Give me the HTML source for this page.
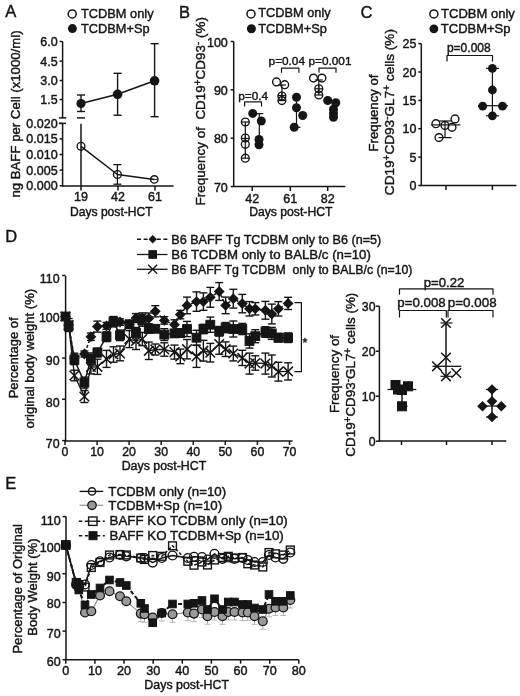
<!DOCTYPE html>
<html><head><meta charset="utf-8"><style>
html,body{margin:0;padding:0;background:#fff;}
svg{display:block;}
text{font-family:"Liberation Sans",sans-serif;fill:#151515;stroke:#151515;stroke-width:0.42px;}
svg{will-change:transform;}
</style></head><body>
<svg width="520" height="696" viewBox="0 0 520 696">
<rect width="520" height="696" fill="#fff"/>
<text x="5.3" y="17.2" font-size="16.5" text-anchor="start">A</text>
<circle cx="72.2" cy="13.9" r="4.0" fill="none" stroke="#151515" stroke-width="1.5"/>
<text x="81.0" y="17.8" font-size="12.8" text-anchor="start">TCDBM only</text>
<circle cx="72.4" cy="28.6" r="4.5" fill="#151515" stroke="#151515" stroke-width="0"/>
<text x="81.0" y="32.7" font-size="12.8" text-anchor="start">TCDBM+Sp</text>
<line x1="62.6" y1="41.5" x2="62.6" y2="117.9" stroke="#151515" stroke-width="1.5"/>
<line x1="59.6" y1="41.5" x2="62.6" y2="41.5" stroke="#151515" stroke-width="1.5"/>
<text x="57.6" y="46.0" font-size="12.5" text-anchor="end">6.0</text>
<line x1="59.6" y1="61.1" x2="62.6" y2="61.1" stroke="#151515" stroke-width="1.5"/>
<text x="57.6" y="65.6" font-size="12.5" text-anchor="end">4.5</text>
<line x1="59.6" y1="80.5" x2="62.6" y2="80.5" stroke="#151515" stroke-width="1.5"/>
<text x="57.6" y="85.0" font-size="12.5" text-anchor="end">3.0</text>
<line x1="59.6" y1="99.5" x2="62.6" y2="99.5" stroke="#151515" stroke-width="1.5"/>
<text x="57.6" y="104.0" font-size="12.5" text-anchor="end">1.5</text>
<line x1="59.0" y1="117.9" x2="66.2" y2="117.9" stroke="#151515" stroke-width="1.5"/>
<line x1="62.6" y1="123.4" x2="62.6" y2="186.0" stroke="#151515" stroke-width="1.5"/>
<line x1="59.6" y1="123.4" x2="62.6" y2="123.4" stroke="#151515" stroke-width="1.5"/>
<text x="57.6" y="127.9" font-size="12.5" text-anchor="end">0.020</text>
<line x1="59.6" y1="138.9" x2="62.6" y2="138.9" stroke="#151515" stroke-width="1.5"/>
<text x="57.6" y="143.4" font-size="12.5" text-anchor="end">0.015</text>
<line x1="59.6" y1="154.5" x2="62.6" y2="154.5" stroke="#151515" stroke-width="1.5"/>
<text x="57.6" y="159.0" font-size="12.5" text-anchor="end">0.010</text>
<line x1="59.6" y1="170.1" x2="62.6" y2="170.1" stroke="#151515" stroke-width="1.5"/>
<text x="57.6" y="174.6" font-size="12.5" text-anchor="end">0.005</text>
<line x1="59.6" y1="185.8" x2="62.6" y2="185.8" stroke="#151515" stroke-width="1.5"/>
<text x="57.6" y="190.3" font-size="12.5" text-anchor="end">0.000</text>
<line x1="58.8" y1="123.4" x2="66.0" y2="123.4" stroke="#151515" stroke-width="1.5"/>
<line x1="62.0" y1="185.9" x2="173.6" y2="185.9" stroke="#151515" stroke-width="1.5"/>
<line x1="81.0" y1="185.9" x2="81.0" y2="190.4" stroke="#151515" stroke-width="1.5"/>
<text x="81.0" y="200.8" font-size="12.5" text-anchor="middle">19</text>
<line x1="118.0" y1="185.9" x2="118.0" y2="190.4" stroke="#151515" stroke-width="1.5"/>
<text x="118.0" y="200.8" font-size="12.5" text-anchor="middle">42</text>
<line x1="155.0" y1="185.9" x2="155.0" y2="190.4" stroke="#151515" stroke-width="1.5"/>
<text x="155.0" y="200.8" font-size="12.5" text-anchor="middle">61</text>
<text x="111.3" y="215.8" font-size="12.1" text-anchor="middle">Days post-HCT</text>
<text x="20.3" y="114.0" font-size="13.2" text-anchor="middle" transform="rotate(-90 20.3 114.0)">ng BAFF per Cell (x1000/ml)</text>
<line x1="81.0" y1="95.0" x2="81.0" y2="111.5" stroke="#151515" stroke-width="1.4"/>
<line x1="77.0" y1="95.0" x2="85.0" y2="95.0" stroke="#151515" stroke-width="1.4"/>
<line x1="77.0" y1="111.5" x2="85.0" y2="111.5" stroke="#151515" stroke-width="1.4"/>
<line x1="77.0" y1="117.9" x2="85.0" y2="117.9" stroke="#151515" stroke-width="1.5"/>
<line x1="117.6" y1="73.3" x2="117.6" y2="115.2" stroke="#151515" stroke-width="1.4"/>
<line x1="113.6" y1="73.3" x2="121.6" y2="73.3" stroke="#151515" stroke-width="1.4"/>
<line x1="113.6" y1="115.2" x2="121.6" y2="115.2" stroke="#151515" stroke-width="1.4"/>
<line x1="154.6" y1="43.7" x2="154.6" y2="116.7" stroke="#151515" stroke-width="1.4"/>
<line x1="150.6" y1="43.7" x2="158.6" y2="43.7" stroke="#151515" stroke-width="1.4"/>
<line x1="150.6" y1="116.7" x2="158.6" y2="116.7" stroke="#151515" stroke-width="1.4"/>
<polyline points="81.0,103.5 117.6,94.3 154.6,80.8" fill="none" stroke="#151515" stroke-width="1.5" stroke-linejoin="round"/>
<circle cx="81.0" cy="103.5" r="4.6" fill="#151515" stroke="#151515" stroke-width="0"/>
<circle cx="117.6" cy="94.3" r="4.8" fill="#151515" stroke="#151515" stroke-width="0"/>
<circle cx="154.6" cy="80.8" r="4.8" fill="#151515" stroke="#151515" stroke-width="0"/>
<line x1="81.0" y1="123.8" x2="81.0" y2="186.0" stroke="#151515" stroke-width="1.5"/>
<line x1="117.4" y1="164.6" x2="117.4" y2="184.2" stroke="#151515" stroke-width="1.3"/>
<line x1="113.4" y1="164.6" x2="121.4" y2="164.6" stroke="#151515" stroke-width="1.3"/>
<line x1="113.4" y1="184.2" x2="121.4" y2="184.2" stroke="#151515" stroke-width="1.3"/>
<polyline points="81.0,146.3 117.4,174.5 154.3,179.4" fill="none" stroke="#151515" stroke-width="1.5" stroke-linejoin="round"/>
<circle cx="81.0" cy="146.3" r="3.9" fill="none" stroke="#151515" stroke-width="1.4"/>
<circle cx="117.4" cy="174.5" r="3.9" fill="none" stroke="#151515" stroke-width="1.4"/>
<circle cx="154.3" cy="179.4" r="3.7" fill="none" stroke="#151515" stroke-width="1.4"/>
<line x1="151.3" y1="179.4" x2="157.3" y2="179.4" stroke="#151515" stroke-width="1.0"/>
<text x="179.0" y="17.6" font-size="16.5" text-anchor="start">B</text>
<circle cx="251.0" cy="13.9" r="4.0" fill="none" stroke="#151515" stroke-width="1.5"/>
<text x="258.2" y="17.4" font-size="12.8" text-anchor="start">TCDBM only</text>
<circle cx="251.4" cy="28.7" r="4.5" fill="#151515" stroke="#151515" stroke-width="0"/>
<text x="258.2" y="32.7" font-size="12.8" text-anchor="start">TCDBM+Sp</text>
<line x1="233.7" y1="41.5" x2="233.7" y2="186.8" stroke="#151515" stroke-width="1.5"/>
<line x1="230.7" y1="41.5" x2="233.7" y2="41.5" stroke="#151515" stroke-width="1.5"/>
<text x="227.8" y="46.5" font-size="12.5" text-anchor="end">100</text>
<line x1="230.7" y1="89.8" x2="233.7" y2="89.8" stroke="#151515" stroke-width="1.5"/>
<text x="227.8" y="94.8" font-size="12.5" text-anchor="end">90</text>
<line x1="230.7" y1="138.2" x2="233.7" y2="138.2" stroke="#151515" stroke-width="1.5"/>
<text x="227.8" y="143.2" font-size="12.5" text-anchor="end">80</text>
<line x1="230.7" y1="186.5" x2="233.7" y2="186.5" stroke="#151515" stroke-width="1.5"/>
<text x="227.8" y="191.5" font-size="12.5" text-anchor="end">70</text>
<line x1="233.1" y1="186.5" x2="345.3" y2="186.5" stroke="#151515" stroke-width="1.5"/>
<line x1="252.2" y1="186.5" x2="252.2" y2="191.0" stroke="#151515" stroke-width="1.5"/>
<text x="252.2" y="202.6" font-size="12.5" text-anchor="middle">42</text>
<line x1="290.3" y1="186.5" x2="290.3" y2="191.0" stroke="#151515" stroke-width="1.5"/>
<text x="290.3" y="202.6" font-size="12.5" text-anchor="middle">61</text>
<line x1="327.7" y1="186.5" x2="327.7" y2="191.0" stroke="#151515" stroke-width="1.5"/>
<text x="327.7" y="202.6" font-size="12.5" text-anchor="middle">82</text>
<text x="290.8" y="215.5" font-size="12.2" text-anchor="middle">Days post-HCT</text>
<text x="204.5" y="205.5" font-size="13.45" text-anchor="start" transform="rotate(-90 204.5 205.5)">Frequency of&#160; CD19<tspan dy="-4" font-size="10">+</tspan><tspan dy="4">CD93</tspan><tspan dy="-4" font-size="10">-</tspan><tspan dy="4"> (%)</tspan></text>
<text x="253.2" y="100.4" font-size="11.8" text-anchor="middle">p=0.4</text>
<polyline points="244.6,106.4 244.6,101.9 261.5,101.9 261.5,106.4" fill="none" stroke="#151515" stroke-width="1.2" stroke-linejoin="round"/>
<text x="286.8" y="65.3" font-size="11.8" text-anchor="middle">p=0.04</text>
<polyline points="281.5,72.7 281.5,68.2 298.9,68.2 298.9,72.7" fill="none" stroke="#151515" stroke-width="1.2" stroke-linejoin="round"/>
<text x="308.5" y="65.3" font-size="11.8" text-anchor="start">p=0.001</text>
<polyline points="319.0,72.7 319.0,68.2 336.0,68.2 336.0,72.7" fill="none" stroke="#151515" stroke-width="1.2" stroke-linejoin="round"/>
<line x1="245.3" y1="122.0" x2="245.3" y2="158.2" stroke="#151515" stroke-width="1.2"/>
<circle cx="245.3" cy="122.0" r="3.9" fill="none" stroke="#151515" stroke-width="1.4"/>
<circle cx="245.3" cy="138.0" r="3.9" fill="none" stroke="#151515" stroke-width="1.4"/>
<circle cx="245.3" cy="144.3" r="3.9" fill="none" stroke="#151515" stroke-width="1.4"/>
<circle cx="245.3" cy="158.2" r="3.9" fill="none" stroke="#151515" stroke-width="1.4"/>
<line x1="241.3" y1="122.0" x2="249.3" y2="122.0" stroke="#151515" stroke-width="1.2"/>
<line x1="241.3" y1="158.2" x2="249.3" y2="158.2" stroke="#151515" stroke-width="1.2"/>
<line x1="241.3" y1="138.5" x2="249.3" y2="138.5" stroke="#151515" stroke-width="1.2"/>
<line x1="245.3" y1="135.5" x2="245.3" y2="141.5" stroke="#151515" stroke-width="1.2"/>
<line x1="259.3" y1="113.6" x2="259.3" y2="139.0" stroke="#151515" stroke-width="1.2"/>
<line x1="255.3" y1="113.6" x2="263.3" y2="113.6" stroke="#151515" stroke-width="1.2"/>
<line x1="255.3" y1="139.0" x2="263.3" y2="139.0" stroke="#151515" stroke-width="1.2"/>
<circle cx="252.7" cy="113.4" r="4.5" fill="#151515" stroke="#151515" stroke-width="0"/>
<circle cx="261.3" cy="121.0" r="4.5" fill="#151515" stroke="#151515" stroke-width="0"/>
<circle cx="259.0" cy="139.5" r="4.5" fill="#151515" stroke="#151515" stroke-width="0"/>
<circle cx="259.0" cy="144.7" r="4.5" fill="#151515" stroke="#151515" stroke-width="0"/>
<line x1="281.9" y1="85.0" x2="281.9" y2="100.6" stroke="#151515" stroke-width="1.2"/>
<circle cx="276.5" cy="81.9" r="3.9" fill="none" stroke="#151515" stroke-width="1.4"/>
<circle cx="284.7" cy="84.7" r="3.9" fill="none" stroke="#151515" stroke-width="1.4"/>
<circle cx="281.9" cy="96.0" r="3.9" fill="none" stroke="#151515" stroke-width="1.4"/>
<circle cx="281.9" cy="100.6" r="3.9" fill="none" stroke="#151515" stroke-width="1.4"/>
<line x1="277.9" y1="85.0" x2="285.9" y2="85.0" stroke="#151515" stroke-width="1.2"/>
<line x1="277.9" y1="100.6" x2="285.9" y2="100.6" stroke="#151515" stroke-width="1.2"/>
<line x1="277.9" y1="95.5" x2="285.9" y2="95.5" stroke="#151515" stroke-width="1.2"/>
<line x1="281.9" y1="92.5" x2="281.9" y2="98.5" stroke="#151515" stroke-width="1.2"/>
<line x1="296.5" y1="97.3" x2="296.5" y2="127.3" stroke="#151515" stroke-width="1.2"/>
<line x1="292.5" y1="97.3" x2="300.5" y2="97.3" stroke="#151515" stroke-width="1.2"/>
<line x1="292.5" y1="127.3" x2="300.5" y2="127.3" stroke="#151515" stroke-width="1.2"/>
<circle cx="296.5" cy="97.3" r="4.5" fill="#151515" stroke="#151515" stroke-width="0"/>
<circle cx="296.5" cy="107.8" r="4.5" fill="#151515" stroke="#151515" stroke-width="0"/>
<circle cx="302.7" cy="115.5" r="4.5" fill="#151515" stroke="#151515" stroke-width="0"/>
<circle cx="294.2" cy="127.3" r="4.5" fill="#151515" stroke="#151515" stroke-width="0"/>
<line x1="318.8" y1="80.0" x2="318.8" y2="95.0" stroke="#151515" stroke-width="1.2"/>
<circle cx="313.5" cy="78.1" r="3.9" fill="none" stroke="#151515" stroke-width="1.4"/>
<circle cx="321.9" cy="78.1" r="3.9" fill="none" stroke="#151515" stroke-width="1.4"/>
<circle cx="318.8" cy="88.8" r="3.9" fill="none" stroke="#151515" stroke-width="1.4"/>
<circle cx="318.8" cy="95.0" r="3.9" fill="none" stroke="#151515" stroke-width="1.4"/>
<line x1="314.8" y1="80.0" x2="322.8" y2="80.0" stroke="#151515" stroke-width="1.2"/>
<line x1="314.8" y1="95.0" x2="322.8" y2="95.0" stroke="#151515" stroke-width="1.2"/>
<line x1="314.8" y1="88.8" x2="322.8" y2="88.8" stroke="#151515" stroke-width="1.2"/>
<line x1="318.8" y1="85.8" x2="318.8" y2="91.8" stroke="#151515" stroke-width="1.2"/>
<line x1="333.5" y1="102.0" x2="333.5" y2="117.3" stroke="#151515" stroke-width="1.2"/>
<line x1="329.5" y1="102.0" x2="337.5" y2="102.0" stroke="#151515" stroke-width="1.2"/>
<line x1="329.5" y1="117.3" x2="337.5" y2="117.3" stroke="#151515" stroke-width="1.2"/>
<circle cx="327.7" cy="100.5" r="4.5" fill="#151515" stroke="#151515" stroke-width="0"/>
<circle cx="335.8" cy="102.8" r="4.5" fill="#151515" stroke="#151515" stroke-width="0"/>
<circle cx="333.5" cy="109.3" r="4.5" fill="#151515" stroke="#151515" stroke-width="0"/>
<circle cx="333.5" cy="113.4" r="4.5" fill="#151515" stroke="#151515" stroke-width="0"/>
<circle cx="333.5" cy="117.3" r="4.5" fill="#151515" stroke="#151515" stroke-width="0"/>
<text x="360.6" y="18.0" font-size="16.5" text-anchor="start">C</text>
<circle cx="433.9" cy="13.9" r="4.0" fill="none" stroke="#151515" stroke-width="1.5"/>
<text x="441.1" y="18.1" font-size="13" text-anchor="start">TCDBM only</text>
<circle cx="433.9" cy="28.8" r="4.4" fill="#151515" stroke="#151515" stroke-width="0"/>
<text x="440.8" y="33.0" font-size="13" text-anchor="start">TCDBM+Sp</text>
<line x1="421.3" y1="43.6" x2="421.3" y2="185.8" stroke="#151515" stroke-width="1.5"/>
<line x1="418.3" y1="43.6" x2="421.3" y2="43.6" stroke="#151515" stroke-width="1.5"/>
<text x="416.5" y="48.1" font-size="12.5" text-anchor="end">25</text>
<line x1="418.3" y1="72.0" x2="421.3" y2="72.0" stroke="#151515" stroke-width="1.5"/>
<text x="416.5" y="76.5" font-size="12.5" text-anchor="end">20</text>
<line x1="418.3" y1="100.4" x2="421.3" y2="100.4" stroke="#151515" stroke-width="1.5"/>
<text x="416.5" y="104.9" font-size="12.5" text-anchor="end">15</text>
<line x1="418.3" y1="128.7" x2="421.3" y2="128.7" stroke="#151515" stroke-width="1.5"/>
<text x="416.5" y="133.2" font-size="12.5" text-anchor="end">10</text>
<line x1="418.3" y1="157.1" x2="421.3" y2="157.1" stroke="#151515" stroke-width="1.5"/>
<text x="416.5" y="161.6" font-size="12.5" text-anchor="end">5</text>
<line x1="418.3" y1="185.5" x2="421.3" y2="185.5" stroke="#151515" stroke-width="1.5"/>
<text x="416.5" y="190.0" font-size="12.5" text-anchor="end">0</text>
<line x1="420.7" y1="185.5" x2="516.4" y2="185.5" stroke="#151515" stroke-width="1.5"/>
<line x1="446.0" y1="185.5" x2="446.0" y2="190.0" stroke="#151515" stroke-width="1.5"/>
<line x1="492.4" y1="185.5" x2="492.4" y2="190.0" stroke="#151515" stroke-width="1.5"/>
<text x="378" y="113" font-size="13.2" text-anchor="middle" transform="rotate(-90 378 113)">Frequency of</text>
<text x="394.4" y="112.1" font-size="13.6" text-anchor="middle" transform="rotate(-90 394.4 112.1)">CD19<tspan dy="-4" font-size="10">+</tspan><tspan dy="4">CD93</tspan><tspan dy="-4" font-size="10">-</tspan><tspan dy="4">GL7</tspan><tspan dy="-4" font-size="10">+</tspan><tspan dy="4"> cells (%)</tspan></text>
<text x="468.8" y="52.3" font-size="12" text-anchor="middle">p=0.008</text>
<polyline points="447.0,61.5 447.0,55.5 492.5,55.5 492.5,61.5" fill="none" stroke="#151515" stroke-width="1.2" stroke-linejoin="round"/>
<line x1="492.4" y1="68.4" x2="492.4" y2="115.8" stroke="#151515" stroke-width="1.2"/>
<line x1="486.0" y1="68.4" x2="499.0" y2="68.4" stroke="#151515" stroke-width="1.2"/>
<line x1="486.0" y1="115.8" x2="499.0" y2="115.8" stroke="#151515" stroke-width="1.2"/>
<line x1="478.0" y1="105.7" x2="508.0" y2="105.7" stroke="#151515" stroke-width="1.2"/>
<circle cx="492.4" cy="68.4" r="4.4" fill="#151515" stroke="#151515" stroke-width="0"/>
<circle cx="492.4" cy="90.0" r="4.4" fill="#151515" stroke="#151515" stroke-width="0"/>
<circle cx="482.7" cy="106.2" r="4.4" fill="#151515" stroke="#151515" stroke-width="0"/>
<circle cx="502.5" cy="106.2" r="4.4" fill="#151515" stroke="#151515" stroke-width="0"/>
<circle cx="492.4" cy="115.8" r="4.4" fill="#151515" stroke="#151515" stroke-width="0"/>
<line x1="445.0" y1="121.0" x2="445.0" y2="137.6" stroke="#151515" stroke-width="1.2"/>
<line x1="438.5" y1="121.0" x2="451.5" y2="121.0" stroke="#151515" stroke-width="1.2"/>
<line x1="438.5" y1="137.6" x2="451.5" y2="137.6" stroke="#151515" stroke-width="1.2"/>
<circle cx="435.9" cy="123.7" r="3.9" fill="none" stroke="#151515" stroke-width="1.4"/>
<circle cx="445.0" cy="125.4" r="3.9" fill="none" stroke="#151515" stroke-width="1.4"/>
<circle cx="452.0" cy="127.3" r="3.9" fill="none" stroke="#151515" stroke-width="1.4"/>
<circle cx="455.0" cy="118.9" r="3.9" fill="none" stroke="#151515" stroke-width="1.4"/>
<circle cx="439.0" cy="137.6" r="3.9" fill="none" stroke="#151515" stroke-width="1.4"/>
<line x1="431.0" y1="124.9" x2="460.4" y2="124.9" stroke="#151515" stroke-width="1.2"/>
<text x="5.3" y="242.0" font-size="16.5" text-anchor="start">D</text>
<line x1="137.0" y1="239.2" x2="167.5" y2="239.2" stroke="#151515" stroke-width="1.4" stroke-dasharray="4,2.6"/>
<path d="M152.7 235.0L156.9 239.2L152.7 243.4L148.5 239.2Z" fill="#151515"/>
<text x="171.3" y="243.7" font-size="12.6" text-anchor="start" textLength="210" lengthAdjust="spacingAndGlyphs">B6 BAFF Tg TCDBM only to B6 (n=5)</text>
<line x1="137.0" y1="254.5" x2="167.5" y2="254.5" stroke="#151515" stroke-width="1.3"/>
<rect x="148.9" y="250.7" width="7.6" height="7.6" fill="#151515" stroke="#151515" stroke-width="1.0"/>
<text x="171.3" y="259.0" font-size="12.8" text-anchor="start" textLength="199.5" lengthAdjust="spacingAndGlyphs">B6 TCDBM only to BALB/c (n=10)</text>
<line x1="137.0" y1="269.3" x2="167.5" y2="269.3" stroke="#151515" stroke-width="1.3"/>
<path d="M148.2 264.8L157.2 273.8M157.2 264.8L148.2 273.8" stroke="#151515" stroke-width="1.3" fill="none"/>
<text x="171.3" y="273.8" font-size="12.3" text-anchor="start">B6 BAFF Tg TCDBM&#160; only to BALB/c (n=10)</text>
<line x1="65.6" y1="276.0" x2="65.6" y2="441.3" stroke="#151515" stroke-width="1.5"/>
<line x1="62.1" y1="275.5" x2="65.6" y2="275.5" stroke="#151515" stroke-width="1.5"/>
<text x="59.6" y="283.0" font-size="12.4" text-anchor="end">110</text>
<line x1="62.1" y1="316.8" x2="65.6" y2="316.8" stroke="#151515" stroke-width="1.5"/>
<text x="59.6" y="321.6" font-size="12.4" text-anchor="end">100</text>
<line x1="62.1" y1="358.1" x2="65.6" y2="358.1" stroke="#151515" stroke-width="1.5"/>
<text x="59.6" y="365.4" font-size="12.4" text-anchor="end">90</text>
<line x1="62.1" y1="399.3" x2="65.6" y2="399.3" stroke="#151515" stroke-width="1.5"/>
<text x="59.6" y="406.7" font-size="12.4" text-anchor="end">80</text>
<line x1="62.1" y1="440.6" x2="65.6" y2="440.6" stroke="#151515" stroke-width="1.5"/>
<text x="59.6" y="447.8" font-size="12.4" text-anchor="end">70</text>
<line x1="65.0" y1="441.0" x2="292.5" y2="441.0" stroke="#151515" stroke-width="1.5"/>
<line x1="65.0" y1="441.0" x2="65.0" y2="445.0" stroke="#151515" stroke-width="1.5"/>
<text x="65.0" y="455.5" font-size="12.3" text-anchor="middle">0</text>
<line x1="97.1" y1="441.0" x2="97.1" y2="445.0" stroke="#151515" stroke-width="1.5"/>
<text x="97.1" y="455.5" font-size="12.3" text-anchor="middle">10</text>
<line x1="129.1" y1="441.0" x2="129.1" y2="445.0" stroke="#151515" stroke-width="1.5"/>
<text x="129.1" y="455.5" font-size="12.3" text-anchor="middle">20</text>
<line x1="161.2" y1="441.0" x2="161.2" y2="445.0" stroke="#151515" stroke-width="1.5"/>
<text x="161.2" y="455.5" font-size="12.3" text-anchor="middle">30</text>
<line x1="193.3" y1="441.0" x2="193.3" y2="445.0" stroke="#151515" stroke-width="1.5"/>
<text x="193.3" y="455.5" font-size="12.3" text-anchor="middle">40</text>
<line x1="225.3" y1="441.0" x2="225.3" y2="445.0" stroke="#151515" stroke-width="1.5"/>
<text x="225.3" y="455.5" font-size="12.3" text-anchor="middle">50</text>
<line x1="257.4" y1="441.0" x2="257.4" y2="445.0" stroke="#151515" stroke-width="1.5"/>
<text x="257.4" y="455.5" font-size="12.3" text-anchor="middle">60</text>
<line x1="289.5" y1="441.0" x2="289.5" y2="445.0" stroke="#151515" stroke-width="1.5"/>
<text x="289.5" y="455.5" font-size="12.3" text-anchor="middle">70</text>
<text x="164.0" y="470.0" font-size="12.4" text-anchor="middle">Days post-HCT</text>
<text x="18.5" y="357.9" font-size="13" text-anchor="middle" transform="rotate(-90 18.5 357.9)">Percentage of</text>
<text x="33.8" y="358.7" font-size="13.1" text-anchor="middle" transform="rotate(-90 33.8 358.7)">original body weight (%)</text>
<line x1="68.6" y1="321.3" x2="68.6" y2="328.7" stroke="#151515" stroke-width="1.4"/>
<line x1="64.6" y1="321.3" x2="72.6" y2="321.3" stroke="#151515" stroke-width="1.4"/>
<line x1="64.6" y1="328.7" x2="72.6" y2="328.7" stroke="#151515" stroke-width="1.4"/>
<line x1="68.6" y1="321.3" x2="68.6" y2="330.5" stroke="#151515" stroke-width="1.4"/>
<line x1="64.6" y1="321.3" x2="72.6" y2="321.3" stroke="#151515" stroke-width="1.4"/>
<line x1="64.6" y1="330.5" x2="72.6" y2="330.5" stroke="#151515" stroke-width="1.4"/>
<line x1="68.6" y1="318.5" x2="68.6" y2="331.5" stroke="#151515" stroke-width="1.4"/>
<line x1="64.6" y1="318.5" x2="72.6" y2="318.5" stroke="#151515" stroke-width="1.4"/>
<line x1="64.6" y1="331.5" x2="72.6" y2="331.5" stroke="#151515" stroke-width="1.4"/>
<line x1="74.4" y1="353.2" x2="74.4" y2="362.8" stroke="#151515" stroke-width="1.4"/>
<line x1="70.4" y1="353.2" x2="78.4" y2="353.2" stroke="#151515" stroke-width="1.4"/>
<line x1="70.4" y1="362.8" x2="78.4" y2="362.8" stroke="#151515" stroke-width="1.4"/>
<line x1="74.4" y1="354.8" x2="74.4" y2="364.6" stroke="#151515" stroke-width="1.4"/>
<line x1="70.4" y1="354.8" x2="78.4" y2="354.8" stroke="#151515" stroke-width="1.4"/>
<line x1="70.4" y1="364.6" x2="78.4" y2="364.6" stroke="#151515" stroke-width="1.4"/>
<line x1="74.4" y1="370.2" x2="74.4" y2="380.8" stroke="#151515" stroke-width="1.4"/>
<line x1="70.4" y1="370.2" x2="78.4" y2="370.2" stroke="#151515" stroke-width="1.4"/>
<line x1="70.4" y1="380.8" x2="78.4" y2="380.8" stroke="#151515" stroke-width="1.4"/>
<line x1="84.4" y1="351.0" x2="84.4" y2="357.0" stroke="#151515" stroke-width="1.4"/>
<line x1="80.4" y1="351.0" x2="88.4" y2="351.0" stroke="#151515" stroke-width="1.4"/>
<line x1="80.4" y1="357.0" x2="88.4" y2="357.0" stroke="#151515" stroke-width="1.4"/>
<line x1="84.4" y1="377.1" x2="84.4" y2="388.1" stroke="#151515" stroke-width="1.4"/>
<line x1="80.4" y1="377.1" x2="88.4" y2="377.1" stroke="#151515" stroke-width="1.4"/>
<line x1="80.4" y1="388.1" x2="88.4" y2="388.1" stroke="#151515" stroke-width="1.4"/>
<line x1="84.4" y1="390.5" x2="84.4" y2="402.5" stroke="#151515" stroke-width="1.4"/>
<line x1="80.4" y1="390.5" x2="88.4" y2="390.5" stroke="#151515" stroke-width="1.4"/>
<line x1="80.4" y1="402.5" x2="88.4" y2="402.5" stroke="#151515" stroke-width="1.4"/>
<line x1="90.9" y1="333.0" x2="90.9" y2="340.4" stroke="#151515" stroke-width="1.4"/>
<line x1="86.9" y1="333.0" x2="94.9" y2="333.0" stroke="#151515" stroke-width="1.4"/>
<line x1="86.9" y1="340.4" x2="94.9" y2="340.4" stroke="#151515" stroke-width="1.4"/>
<line x1="90.9" y1="352.9" x2="90.9" y2="364.9" stroke="#151515" stroke-width="1.4"/>
<line x1="86.9" y1="352.9" x2="94.9" y2="352.9" stroke="#151515" stroke-width="1.4"/>
<line x1="86.9" y1="364.9" x2="94.9" y2="364.9" stroke="#151515" stroke-width="1.4"/>
<line x1="90.9" y1="360.1" x2="90.9" y2="373.9" stroke="#151515" stroke-width="1.4"/>
<line x1="86.9" y1="360.1" x2="94.9" y2="360.1" stroke="#151515" stroke-width="1.4"/>
<line x1="86.9" y1="373.9" x2="94.9" y2="373.9" stroke="#151515" stroke-width="1.4"/>
<line x1="97.4" y1="321.1" x2="97.4" y2="332.1" stroke="#151515" stroke-width="1.4"/>
<line x1="93.4" y1="321.1" x2="101.4" y2="321.1" stroke="#151515" stroke-width="1.4"/>
<line x1="93.4" y1="332.1" x2="101.4" y2="332.1" stroke="#151515" stroke-width="1.4"/>
<line x1="97.4" y1="348.1" x2="97.4" y2="356.9" stroke="#151515" stroke-width="1.4"/>
<line x1="93.4" y1="348.1" x2="101.4" y2="348.1" stroke="#151515" stroke-width="1.4"/>
<line x1="93.4" y1="356.9" x2="101.4" y2="356.9" stroke="#151515" stroke-width="1.4"/>
<line x1="97.4" y1="359.2" x2="97.4" y2="374.4" stroke="#151515" stroke-width="1.4"/>
<line x1="93.4" y1="359.2" x2="101.4" y2="359.2" stroke="#151515" stroke-width="1.4"/>
<line x1="93.4" y1="374.4" x2="101.4" y2="374.4" stroke="#151515" stroke-width="1.4"/>
<line x1="106.5" y1="322.4" x2="106.5" y2="329.4" stroke="#151515" stroke-width="1.4"/>
<line x1="102.5" y1="322.4" x2="110.5" y2="322.4" stroke="#151515" stroke-width="1.4"/>
<line x1="102.5" y1="329.4" x2="110.5" y2="329.4" stroke="#151515" stroke-width="1.4"/>
<line x1="106.5" y1="331.8" x2="106.5" y2="341.6" stroke="#151515" stroke-width="1.4"/>
<line x1="102.5" y1="331.8" x2="110.5" y2="331.8" stroke="#151515" stroke-width="1.4"/>
<line x1="102.5" y1="341.6" x2="110.5" y2="341.6" stroke="#151515" stroke-width="1.4"/>
<line x1="106.5" y1="350.4" x2="106.5" y2="367.4" stroke="#151515" stroke-width="1.4"/>
<line x1="102.5" y1="350.4" x2="110.5" y2="350.4" stroke="#151515" stroke-width="1.4"/>
<line x1="102.5" y1="367.4" x2="110.5" y2="367.4" stroke="#151515" stroke-width="1.4"/>
<line x1="113.5" y1="317.0" x2="113.5" y2="326.2" stroke="#151515" stroke-width="1.4"/>
<line x1="109.5" y1="317.0" x2="117.5" y2="317.0" stroke="#151515" stroke-width="1.4"/>
<line x1="109.5" y1="326.2" x2="117.5" y2="326.2" stroke="#151515" stroke-width="1.4"/>
<line x1="113.5" y1="316.5" x2="113.5" y2="326.9" stroke="#151515" stroke-width="1.4"/>
<line x1="109.5" y1="316.5" x2="117.5" y2="316.5" stroke="#151515" stroke-width="1.4"/>
<line x1="109.5" y1="326.9" x2="117.5" y2="326.9" stroke="#151515" stroke-width="1.4"/>
<line x1="113.5" y1="346.8" x2="113.5" y2="362.2" stroke="#151515" stroke-width="1.4"/>
<line x1="109.5" y1="346.8" x2="117.5" y2="346.8" stroke="#151515" stroke-width="1.4"/>
<line x1="109.5" y1="362.2" x2="117.5" y2="362.2" stroke="#151515" stroke-width="1.4"/>
<line x1="120.0" y1="318.8" x2="120.0" y2="325.2" stroke="#151515" stroke-width="1.4"/>
<line x1="116.0" y1="318.8" x2="124.0" y2="318.8" stroke="#151515" stroke-width="1.4"/>
<line x1="116.0" y1="325.2" x2="124.0" y2="325.2" stroke="#151515" stroke-width="1.4"/>
<line x1="120.0" y1="330.0" x2="120.0" y2="340.6" stroke="#151515" stroke-width="1.4"/>
<line x1="116.0" y1="330.0" x2="124.0" y2="330.0" stroke="#151515" stroke-width="1.4"/>
<line x1="116.0" y1="340.6" x2="124.0" y2="340.6" stroke="#151515" stroke-width="1.4"/>
<line x1="120.0" y1="346.0" x2="120.0" y2="360.8" stroke="#151515" stroke-width="1.4"/>
<line x1="116.0" y1="346.0" x2="124.0" y2="346.0" stroke="#151515" stroke-width="1.4"/>
<line x1="116.0" y1="360.8" x2="124.0" y2="360.8" stroke="#151515" stroke-width="1.4"/>
<line x1="129.4" y1="320.4" x2="129.4" y2="328.2" stroke="#151515" stroke-width="1.4"/>
<line x1="125.4" y1="320.4" x2="133.4" y2="320.4" stroke="#151515" stroke-width="1.4"/>
<line x1="125.4" y1="328.2" x2="133.4" y2="328.2" stroke="#151515" stroke-width="1.4"/>
<line x1="129.4" y1="321.2" x2="129.4" y2="327.4" stroke="#151515" stroke-width="1.4"/>
<line x1="125.4" y1="321.2" x2="133.4" y2="321.2" stroke="#151515" stroke-width="1.4"/>
<line x1="125.4" y1="327.4" x2="133.4" y2="327.4" stroke="#151515" stroke-width="1.4"/>
<line x1="129.4" y1="330.6" x2="129.4" y2="347.6" stroke="#151515" stroke-width="1.4"/>
<line x1="125.4" y1="330.6" x2="133.4" y2="330.6" stroke="#151515" stroke-width="1.4"/>
<line x1="125.4" y1="347.6" x2="133.4" y2="347.6" stroke="#151515" stroke-width="1.4"/>
<line x1="136.0" y1="313.6" x2="136.0" y2="322.4" stroke="#151515" stroke-width="1.4"/>
<line x1="132.0" y1="313.6" x2="140.0" y2="313.6" stroke="#151515" stroke-width="1.4"/>
<line x1="132.0" y1="322.4" x2="140.0" y2="322.4" stroke="#151515" stroke-width="1.4"/>
<line x1="136.0" y1="327.5" x2="136.0" y2="337.9" stroke="#151515" stroke-width="1.4"/>
<line x1="132.0" y1="327.5" x2="140.0" y2="327.5" stroke="#151515" stroke-width="1.4"/>
<line x1="132.0" y1="337.9" x2="140.0" y2="337.9" stroke="#151515" stroke-width="1.4"/>
<line x1="136.0" y1="332.5" x2="136.0" y2="349.5" stroke="#151515" stroke-width="1.4"/>
<line x1="132.0" y1="332.5" x2="140.0" y2="332.5" stroke="#151515" stroke-width="1.4"/>
<line x1="132.0" y1="349.5" x2="140.0" y2="349.5" stroke="#151515" stroke-width="1.4"/>
<line x1="142.3" y1="312.9" x2="142.3" y2="323.1" stroke="#151515" stroke-width="1.4"/>
<line x1="138.3" y1="312.9" x2="146.3" y2="312.9" stroke="#151515" stroke-width="1.4"/>
<line x1="138.3" y1="323.1" x2="146.3" y2="323.1" stroke="#151515" stroke-width="1.4"/>
<line x1="142.3" y1="314.6" x2="142.3" y2="326.2" stroke="#151515" stroke-width="1.4"/>
<line x1="138.3" y1="314.6" x2="146.3" y2="314.6" stroke="#151515" stroke-width="1.4"/>
<line x1="138.3" y1="326.2" x2="146.3" y2="326.2" stroke="#151515" stroke-width="1.4"/>
<line x1="142.3" y1="332.4" x2="142.3" y2="345.6" stroke="#151515" stroke-width="1.4"/>
<line x1="138.3" y1="332.4" x2="146.3" y2="332.4" stroke="#151515" stroke-width="1.4"/>
<line x1="138.3" y1="345.6" x2="146.3" y2="345.6" stroke="#151515" stroke-width="1.4"/>
<line x1="148.8" y1="313.0" x2="148.8" y2="323.8" stroke="#151515" stroke-width="1.4"/>
<line x1="144.8" y1="313.0" x2="152.8" y2="313.0" stroke="#151515" stroke-width="1.4"/>
<line x1="144.8" y1="323.8" x2="152.8" y2="323.8" stroke="#151515" stroke-width="1.4"/>
<line x1="148.8" y1="324.5" x2="148.8" y2="333.1" stroke="#151515" stroke-width="1.4"/>
<line x1="144.8" y1="324.5" x2="152.8" y2="324.5" stroke="#151515" stroke-width="1.4"/>
<line x1="144.8" y1="333.1" x2="152.8" y2="333.1" stroke="#151515" stroke-width="1.4"/>
<line x1="148.8" y1="342.1" x2="148.8" y2="359.5" stroke="#151515" stroke-width="1.4"/>
<line x1="144.8" y1="342.1" x2="152.8" y2="342.1" stroke="#151515" stroke-width="1.4"/>
<line x1="144.8" y1="359.5" x2="152.8" y2="359.5" stroke="#151515" stroke-width="1.4"/>
<line x1="155.3" y1="305.7" x2="155.3" y2="316.9" stroke="#151515" stroke-width="1.4"/>
<line x1="151.3" y1="305.7" x2="159.3" y2="305.7" stroke="#151515" stroke-width="1.4"/>
<line x1="151.3" y1="316.9" x2="159.3" y2="316.9" stroke="#151515" stroke-width="1.4"/>
<line x1="155.3" y1="325.5" x2="155.3" y2="332.1" stroke="#151515" stroke-width="1.4"/>
<line x1="151.3" y1="325.5" x2="159.3" y2="325.5" stroke="#151515" stroke-width="1.4"/>
<line x1="151.3" y1="332.1" x2="159.3" y2="332.1" stroke="#151515" stroke-width="1.4"/>
<line x1="155.3" y1="344.0" x2="155.3" y2="355.0" stroke="#151515" stroke-width="1.4"/>
<line x1="151.3" y1="344.0" x2="159.3" y2="344.0" stroke="#151515" stroke-width="1.4"/>
<line x1="151.3" y1="355.0" x2="159.3" y2="355.0" stroke="#151515" stroke-width="1.4"/>
<line x1="164.3" y1="316.7" x2="164.3" y2="324.1" stroke="#151515" stroke-width="1.4"/>
<line x1="160.3" y1="316.7" x2="168.3" y2="316.7" stroke="#151515" stroke-width="1.4"/>
<line x1="160.3" y1="324.1" x2="168.3" y2="324.1" stroke="#151515" stroke-width="1.4"/>
<line x1="164.3" y1="328.7" x2="164.3" y2="340.5" stroke="#151515" stroke-width="1.4"/>
<line x1="160.3" y1="328.7" x2="168.3" y2="328.7" stroke="#151515" stroke-width="1.4"/>
<line x1="160.3" y1="340.5" x2="168.3" y2="340.5" stroke="#151515" stroke-width="1.4"/>
<line x1="164.3" y1="342.8" x2="164.3" y2="356.2" stroke="#151515" stroke-width="1.4"/>
<line x1="160.3" y1="342.8" x2="168.3" y2="342.8" stroke="#151515" stroke-width="1.4"/>
<line x1="160.3" y1="356.2" x2="168.3" y2="356.2" stroke="#151515" stroke-width="1.4"/>
<line x1="174.5" y1="319.8" x2="174.5" y2="329.6" stroke="#151515" stroke-width="1.4"/>
<line x1="170.5" y1="319.8" x2="178.5" y2="319.8" stroke="#151515" stroke-width="1.4"/>
<line x1="170.5" y1="329.6" x2="178.5" y2="329.6" stroke="#151515" stroke-width="1.4"/>
<line x1="174.5" y1="329.5" x2="174.5" y2="337.3" stroke="#151515" stroke-width="1.4"/>
<line x1="170.5" y1="329.5" x2="178.5" y2="329.5" stroke="#151515" stroke-width="1.4"/>
<line x1="170.5" y1="337.3" x2="178.5" y2="337.3" stroke="#151515" stroke-width="1.4"/>
<line x1="174.5" y1="345.1" x2="174.5" y2="359.1" stroke="#151515" stroke-width="1.4"/>
<line x1="170.5" y1="345.1" x2="178.5" y2="345.1" stroke="#151515" stroke-width="1.4"/>
<line x1="170.5" y1="359.1" x2="178.5" y2="359.1" stroke="#151515" stroke-width="1.4"/>
<line x1="180.3" y1="310.4" x2="180.3" y2="318.8" stroke="#151515" stroke-width="1.4"/>
<line x1="176.3" y1="310.4" x2="184.3" y2="310.4" stroke="#151515" stroke-width="1.4"/>
<line x1="176.3" y1="318.8" x2="184.3" y2="318.8" stroke="#151515" stroke-width="1.4"/>
<line x1="180.3" y1="328.9" x2="180.3" y2="337.1" stroke="#151515" stroke-width="1.4"/>
<line x1="176.3" y1="328.9" x2="184.3" y2="328.9" stroke="#151515" stroke-width="1.4"/>
<line x1="176.3" y1="337.1" x2="184.3" y2="337.1" stroke="#151515" stroke-width="1.4"/>
<line x1="180.3" y1="349.1" x2="180.3" y2="363.7" stroke="#151515" stroke-width="1.4"/>
<line x1="176.3" y1="349.1" x2="184.3" y2="349.1" stroke="#151515" stroke-width="1.4"/>
<line x1="176.3" y1="363.7" x2="184.3" y2="363.7" stroke="#151515" stroke-width="1.4"/>
<line x1="187.0" y1="297.1" x2="187.0" y2="313.7" stroke="#151515" stroke-width="1.4"/>
<line x1="183.0" y1="297.1" x2="191.0" y2="297.1" stroke="#151515" stroke-width="1.4"/>
<line x1="183.0" y1="313.7" x2="191.0" y2="313.7" stroke="#151515" stroke-width="1.4"/>
<line x1="187.0" y1="321.4" x2="187.0" y2="336.6" stroke="#151515" stroke-width="1.4"/>
<line x1="183.0" y1="321.4" x2="191.0" y2="321.4" stroke="#151515" stroke-width="1.4"/>
<line x1="183.0" y1="336.6" x2="191.0" y2="336.6" stroke="#151515" stroke-width="1.4"/>
<line x1="187.0" y1="339.5" x2="187.0" y2="358.9" stroke="#151515" stroke-width="1.4"/>
<line x1="183.0" y1="339.5" x2="191.0" y2="339.5" stroke="#151515" stroke-width="1.4"/>
<line x1="183.0" y1="358.9" x2="191.0" y2="358.9" stroke="#151515" stroke-width="1.4"/>
<line x1="196.5" y1="291.9" x2="196.5" y2="311.3" stroke="#151515" stroke-width="1.4"/>
<line x1="192.5" y1="291.9" x2="200.5" y2="291.9" stroke="#151515" stroke-width="1.4"/>
<line x1="192.5" y1="311.3" x2="200.5" y2="311.3" stroke="#151515" stroke-width="1.4"/>
<line x1="196.5" y1="330.3" x2="196.5" y2="345.1" stroke="#151515" stroke-width="1.4"/>
<line x1="192.5" y1="330.3" x2="200.5" y2="330.3" stroke="#151515" stroke-width="1.4"/>
<line x1="192.5" y1="345.1" x2="200.5" y2="345.1" stroke="#151515" stroke-width="1.4"/>
<line x1="196.5" y1="345.4" x2="196.5" y2="367.4" stroke="#151515" stroke-width="1.4"/>
<line x1="192.5" y1="345.4" x2="200.5" y2="345.4" stroke="#151515" stroke-width="1.4"/>
<line x1="192.5" y1="367.4" x2="200.5" y2="367.4" stroke="#151515" stroke-width="1.4"/>
<line x1="203.4" y1="292.9" x2="203.4" y2="310.3" stroke="#151515" stroke-width="1.4"/>
<line x1="199.4" y1="292.9" x2="207.4" y2="292.9" stroke="#151515" stroke-width="1.4"/>
<line x1="199.4" y1="310.3" x2="207.4" y2="310.3" stroke="#151515" stroke-width="1.4"/>
<line x1="203.4" y1="324.3" x2="203.4" y2="333.7" stroke="#151515" stroke-width="1.4"/>
<line x1="199.4" y1="324.3" x2="207.4" y2="324.3" stroke="#151515" stroke-width="1.4"/>
<line x1="199.4" y1="333.7" x2="207.4" y2="333.7" stroke="#151515" stroke-width="1.4"/>
<line x1="203.4" y1="340.3" x2="203.4" y2="361.1" stroke="#151515" stroke-width="1.4"/>
<line x1="199.4" y1="340.3" x2="207.4" y2="340.3" stroke="#151515" stroke-width="1.4"/>
<line x1="199.4" y1="361.1" x2="207.4" y2="361.1" stroke="#151515" stroke-width="1.4"/>
<line x1="210.3" y1="287.4" x2="210.3" y2="307.2" stroke="#151515" stroke-width="1.4"/>
<line x1="206.3" y1="287.4" x2="214.3" y2="287.4" stroke="#151515" stroke-width="1.4"/>
<line x1="206.3" y1="307.2" x2="214.3" y2="307.2" stroke="#151515" stroke-width="1.4"/>
<line x1="210.3" y1="317.1" x2="210.3" y2="332.3" stroke="#151515" stroke-width="1.4"/>
<line x1="206.3" y1="317.1" x2="214.3" y2="317.1" stroke="#151515" stroke-width="1.4"/>
<line x1="206.3" y1="332.3" x2="214.3" y2="332.3" stroke="#151515" stroke-width="1.4"/>
<line x1="210.3" y1="343.4" x2="210.3" y2="362.0" stroke="#151515" stroke-width="1.4"/>
<line x1="206.3" y1="343.4" x2="214.3" y2="343.4" stroke="#151515" stroke-width="1.4"/>
<line x1="206.3" y1="362.0" x2="214.3" y2="362.0" stroke="#151515" stroke-width="1.4"/>
<line x1="219.2" y1="282.6" x2="219.2" y2="300.4" stroke="#151515" stroke-width="1.4"/>
<line x1="215.2" y1="282.6" x2="223.2" y2="282.6" stroke="#151515" stroke-width="1.4"/>
<line x1="215.2" y1="300.4" x2="223.2" y2="300.4" stroke="#151515" stroke-width="1.4"/>
<line x1="219.2" y1="326.5" x2="219.2" y2="336.1" stroke="#151515" stroke-width="1.4"/>
<line x1="215.2" y1="326.5" x2="223.2" y2="326.5" stroke="#151515" stroke-width="1.4"/>
<line x1="215.2" y1="336.1" x2="223.2" y2="336.1" stroke="#151515" stroke-width="1.4"/>
<line x1="219.2" y1="333.7" x2="219.2" y2="354.3" stroke="#151515" stroke-width="1.4"/>
<line x1="215.2" y1="333.7" x2="223.2" y2="333.7" stroke="#151515" stroke-width="1.4"/>
<line x1="215.2" y1="354.3" x2="223.2" y2="354.3" stroke="#151515" stroke-width="1.4"/>
<line x1="225.6" y1="297.1" x2="225.6" y2="313.7" stroke="#151515" stroke-width="1.4"/>
<line x1="221.6" y1="297.1" x2="229.6" y2="297.1" stroke="#151515" stroke-width="1.4"/>
<line x1="221.6" y1="313.7" x2="229.6" y2="313.7" stroke="#151515" stroke-width="1.4"/>
<line x1="225.6" y1="322.5" x2="225.6" y2="332.7" stroke="#151515" stroke-width="1.4"/>
<line x1="221.6" y1="322.5" x2="229.6" y2="322.5" stroke="#151515" stroke-width="1.4"/>
<line x1="221.6" y1="332.7" x2="229.6" y2="332.7" stroke="#151515" stroke-width="1.4"/>
<line x1="225.6" y1="341.9" x2="225.6" y2="356.5" stroke="#151515" stroke-width="1.4"/>
<line x1="221.6" y1="341.9" x2="229.6" y2="341.9" stroke="#151515" stroke-width="1.4"/>
<line x1="221.6" y1="356.5" x2="229.6" y2="356.5" stroke="#151515" stroke-width="1.4"/>
<line x1="233.3" y1="289.3" x2="233.3" y2="308.1" stroke="#151515" stroke-width="1.4"/>
<line x1="229.3" y1="289.3" x2="237.3" y2="289.3" stroke="#151515" stroke-width="1.4"/>
<line x1="229.3" y1="308.1" x2="237.3" y2="308.1" stroke="#151515" stroke-width="1.4"/>
<line x1="233.3" y1="321.0" x2="233.3" y2="337.0" stroke="#151515" stroke-width="1.4"/>
<line x1="229.3" y1="321.0" x2="237.3" y2="321.0" stroke="#151515" stroke-width="1.4"/>
<line x1="229.3" y1="337.0" x2="237.3" y2="337.0" stroke="#151515" stroke-width="1.4"/>
<line x1="233.3" y1="346.1" x2="233.3" y2="360.9" stroke="#151515" stroke-width="1.4"/>
<line x1="229.3" y1="346.1" x2="237.3" y2="346.1" stroke="#151515" stroke-width="1.4"/>
<line x1="229.3" y1="360.9" x2="237.3" y2="360.9" stroke="#151515" stroke-width="1.4"/>
<line x1="242.3" y1="294.4" x2="242.3" y2="312.8" stroke="#151515" stroke-width="1.4"/>
<line x1="238.3" y1="294.4" x2="246.3" y2="294.4" stroke="#151515" stroke-width="1.4"/>
<line x1="238.3" y1="312.8" x2="246.3" y2="312.8" stroke="#151515" stroke-width="1.4"/>
<line x1="242.3" y1="323.4" x2="242.3" y2="334.6" stroke="#151515" stroke-width="1.4"/>
<line x1="238.3" y1="323.4" x2="246.3" y2="323.4" stroke="#151515" stroke-width="1.4"/>
<line x1="238.3" y1="334.6" x2="246.3" y2="334.6" stroke="#151515" stroke-width="1.4"/>
<line x1="242.3" y1="350.3" x2="242.3" y2="365.5" stroke="#151515" stroke-width="1.4"/>
<line x1="238.3" y1="350.3" x2="246.3" y2="350.3" stroke="#151515" stroke-width="1.4"/>
<line x1="238.3" y1="365.5" x2="246.3" y2="365.5" stroke="#151515" stroke-width="1.4"/>
<line x1="249.5" y1="301.6" x2="249.5" y2="316.0" stroke="#151515" stroke-width="1.4"/>
<line x1="245.5" y1="301.6" x2="253.5" y2="301.6" stroke="#151515" stroke-width="1.4"/>
<line x1="245.5" y1="316.0" x2="253.5" y2="316.0" stroke="#151515" stroke-width="1.4"/>
<line x1="249.5" y1="333.9" x2="249.5" y2="348.1" stroke="#151515" stroke-width="1.4"/>
<line x1="245.5" y1="333.9" x2="253.5" y2="333.9" stroke="#151515" stroke-width="1.4"/>
<line x1="245.5" y1="348.1" x2="253.5" y2="348.1" stroke="#151515" stroke-width="1.4"/>
<line x1="249.5" y1="353.1" x2="249.5" y2="374.1" stroke="#151515" stroke-width="1.4"/>
<line x1="245.5" y1="353.1" x2="253.5" y2="353.1" stroke="#151515" stroke-width="1.4"/>
<line x1="245.5" y1="374.1" x2="253.5" y2="374.1" stroke="#151515" stroke-width="1.4"/>
<line x1="255.3" y1="302.6" x2="255.3" y2="315.0" stroke="#151515" stroke-width="1.4"/>
<line x1="251.3" y1="302.6" x2="259.3" y2="302.6" stroke="#151515" stroke-width="1.4"/>
<line x1="251.3" y1="315.0" x2="259.3" y2="315.0" stroke="#151515" stroke-width="1.4"/>
<line x1="255.3" y1="329.7" x2="255.3" y2="342.7" stroke="#151515" stroke-width="1.4"/>
<line x1="251.3" y1="329.7" x2="259.3" y2="329.7" stroke="#151515" stroke-width="1.4"/>
<line x1="251.3" y1="342.7" x2="259.3" y2="342.7" stroke="#151515" stroke-width="1.4"/>
<line x1="255.3" y1="355.8" x2="255.3" y2="370.2" stroke="#151515" stroke-width="1.4"/>
<line x1="251.3" y1="355.8" x2="259.3" y2="355.8" stroke="#151515" stroke-width="1.4"/>
<line x1="251.3" y1="370.2" x2="259.3" y2="370.2" stroke="#151515" stroke-width="1.4"/>
<line x1="265.4" y1="301.4" x2="265.4" y2="319.2" stroke="#151515" stroke-width="1.4"/>
<line x1="261.4" y1="301.4" x2="269.4" y2="301.4" stroke="#151515" stroke-width="1.4"/>
<line x1="261.4" y1="319.2" x2="269.4" y2="319.2" stroke="#151515" stroke-width="1.4"/>
<line x1="265.4" y1="326.7" x2="265.4" y2="337.3" stroke="#151515" stroke-width="1.4"/>
<line x1="261.4" y1="326.7" x2="269.4" y2="326.7" stroke="#151515" stroke-width="1.4"/>
<line x1="261.4" y1="337.3" x2="269.4" y2="337.3" stroke="#151515" stroke-width="1.4"/>
<line x1="265.4" y1="353.1" x2="265.4" y2="374.1" stroke="#151515" stroke-width="1.4"/>
<line x1="261.4" y1="353.1" x2="269.4" y2="353.1" stroke="#151515" stroke-width="1.4"/>
<line x1="261.4" y1="374.1" x2="269.4" y2="374.1" stroke="#151515" stroke-width="1.4"/>
<line x1="271.8" y1="304.1" x2="271.8" y2="323.9" stroke="#151515" stroke-width="1.4"/>
<line x1="267.8" y1="304.1" x2="275.8" y2="304.1" stroke="#151515" stroke-width="1.4"/>
<line x1="267.8" y1="323.9" x2="275.8" y2="323.9" stroke="#151515" stroke-width="1.4"/>
<line x1="271.8" y1="327.4" x2="271.8" y2="339.4" stroke="#151515" stroke-width="1.4"/>
<line x1="267.8" y1="327.4" x2="275.8" y2="327.4" stroke="#151515" stroke-width="1.4"/>
<line x1="267.8" y1="339.4" x2="275.8" y2="339.4" stroke="#151515" stroke-width="1.4"/>
<line x1="271.8" y1="355.0" x2="271.8" y2="377.0" stroke="#151515" stroke-width="1.4"/>
<line x1="267.8" y1="355.0" x2="275.8" y2="355.0" stroke="#151515" stroke-width="1.4"/>
<line x1="267.8" y1="377.0" x2="275.8" y2="377.0" stroke="#151515" stroke-width="1.4"/>
<line x1="278.4" y1="301.6" x2="278.4" y2="316.0" stroke="#151515" stroke-width="1.4"/>
<line x1="274.4" y1="301.6" x2="282.4" y2="301.6" stroke="#151515" stroke-width="1.4"/>
<line x1="274.4" y1="316.0" x2="282.4" y2="316.0" stroke="#151515" stroke-width="1.4"/>
<line x1="278.4" y1="333.4" x2="278.4" y2="342.0" stroke="#151515" stroke-width="1.4"/>
<line x1="274.4" y1="333.4" x2="282.4" y2="333.4" stroke="#151515" stroke-width="1.4"/>
<line x1="274.4" y1="342.0" x2="282.4" y2="342.0" stroke="#151515" stroke-width="1.4"/>
<line x1="278.4" y1="362.3" x2="278.4" y2="381.1" stroke="#151515" stroke-width="1.4"/>
<line x1="274.4" y1="362.3" x2="282.4" y2="362.3" stroke="#151515" stroke-width="1.4"/>
<line x1="274.4" y1="381.1" x2="282.4" y2="381.1" stroke="#151515" stroke-width="1.4"/>
<line x1="288.1" y1="297.3" x2="288.1" y2="309.5" stroke="#151515" stroke-width="1.4"/>
<line x1="284.1" y1="297.3" x2="292.1" y2="297.3" stroke="#151515" stroke-width="1.4"/>
<line x1="284.1" y1="309.5" x2="292.1" y2="309.5" stroke="#151515" stroke-width="1.4"/>
<line x1="288.1" y1="332.9" x2="288.1" y2="342.5" stroke="#151515" stroke-width="1.4"/>
<line x1="284.1" y1="332.9" x2="292.1" y2="332.9" stroke="#151515" stroke-width="1.4"/>
<line x1="284.1" y1="342.5" x2="292.1" y2="342.5" stroke="#151515" stroke-width="1.4"/>
<line x1="288.1" y1="362.8" x2="288.1" y2="380.0" stroke="#151515" stroke-width="1.4"/>
<line x1="284.1" y1="362.8" x2="292.1" y2="362.8" stroke="#151515" stroke-width="1.4"/>
<line x1="284.1" y1="380.0" x2="292.1" y2="380.0" stroke="#151515" stroke-width="1.4"/>
<polyline points="65.5,316.5 68.6,325.0 74.4,375.5 84.4,396.5 90.9,367.0 97.4,366.8 106.5,358.9 113.5,354.5 120.0,353.4 129.4,339.1 136.0,341.0 142.3,339.0 148.8,350.8 155.3,349.5 164.3,349.5 174.5,352.1 180.3,356.4 187.0,349.2 196.5,356.4 203.4,350.7 210.3,352.7 219.2,344.0 225.6,349.2 233.3,353.5 242.3,357.9 249.5,363.6 255.3,363.0 265.4,363.6 271.8,366.0 278.4,371.7 288.1,371.4" fill="none" stroke="#151515" stroke-width="1.3" stroke-linejoin="round"/>
<polyline points="65.5,316.5 68.6,325.9 74.4,359.7 84.4,382.6 90.9,358.9 97.4,352.5 106.5,336.7 113.5,321.7 120.0,335.3 129.4,324.3 136.0,332.7 142.3,320.4 148.8,328.8 155.3,328.8 164.3,334.6 174.5,333.4 180.3,333.0 187.0,329.0 196.5,337.7 203.4,329.0 210.3,324.7 219.2,331.3 225.6,327.6 233.3,329.0 242.3,329.0 249.5,341.0 255.3,336.2 265.4,332.0 271.8,333.4 278.4,337.7 288.1,337.7" fill="none" stroke="#151515" stroke-width="1.5" stroke-linejoin="round"/>
<polyline points="65.5,316.5 68.6,325.0 74.4,358.0 84.4,354.0 90.9,336.7 97.4,326.6 106.5,325.9 113.5,321.6 120.0,322.0 129.4,324.3 136.0,318.0 142.3,318.0 148.8,318.4 155.3,311.3 164.3,320.4 174.5,324.7 180.3,314.6 187.0,305.4 196.5,301.6 203.4,301.6 210.3,297.3 219.2,291.5 225.6,305.4 233.3,298.7 242.3,303.6 249.5,308.8 255.3,308.8 265.4,310.3 271.8,314.0 278.4,308.8 288.1,303.4" fill="none" stroke="#151515" stroke-width="1.5" stroke-dasharray="3,2" stroke-linejoin="round"/>
<path d="M60.7 311.7L70.3 321.3M70.3 311.7L60.7 321.3" stroke="#151515" stroke-width="1.5" fill="none"/>
<path d="M63.8 320.2L73.4 329.8M73.4 320.2L63.8 329.8" stroke="#151515" stroke-width="1.5" fill="none"/>
<path d="M69.6 370.7L79.2 380.3M79.2 370.7L69.6 380.3" stroke="#151515" stroke-width="1.5" fill="none"/>
<path d="M79.6 391.7L89.2 401.3M89.2 391.7L79.6 401.3" stroke="#151515" stroke-width="1.5" fill="none"/>
<path d="M86.1 362.2L95.7 371.8M95.7 362.2L86.1 371.8" stroke="#151515" stroke-width="1.5" fill="none"/>
<path d="M92.6 362.0L102.2 371.6M102.2 362.0L92.6 371.6" stroke="#151515" stroke-width="1.5" fill="none"/>
<path d="M101.7 354.1L111.3 363.7M111.3 354.1L101.7 363.7" stroke="#151515" stroke-width="1.5" fill="none"/>
<path d="M108.7 349.7L118.3 359.3M118.3 349.7L108.7 359.3" stroke="#151515" stroke-width="1.5" fill="none"/>
<path d="M115.2 348.6L124.8 358.2M124.8 348.6L115.2 358.2" stroke="#151515" stroke-width="1.5" fill="none"/>
<path d="M124.6 334.3L134.2 343.9M134.2 334.3L124.6 343.9" stroke="#151515" stroke-width="1.5" fill="none"/>
<path d="M131.2 336.2L140.8 345.8M140.8 336.2L131.2 345.8" stroke="#151515" stroke-width="1.5" fill="none"/>
<path d="M137.5 334.2L147.1 343.8M147.1 334.2L137.5 343.8" stroke="#151515" stroke-width="1.5" fill="none"/>
<path d="M144.0 346.0L153.6 355.6M153.6 346.0L144.0 355.6" stroke="#151515" stroke-width="1.5" fill="none"/>
<path d="M150.5 344.7L160.1 354.3M160.1 344.7L150.5 354.3" stroke="#151515" stroke-width="1.5" fill="none"/>
<path d="M159.5 344.7L169.1 354.3M169.1 344.7L159.5 354.3" stroke="#151515" stroke-width="1.5" fill="none"/>
<path d="M169.7 347.3L179.3 356.9M179.3 347.3L169.7 356.9" stroke="#151515" stroke-width="1.5" fill="none"/>
<path d="M175.5 351.6L185.1 361.2M185.1 351.6L175.5 361.2" stroke="#151515" stroke-width="1.5" fill="none"/>
<path d="M182.2 344.4L191.8 354.0M191.8 344.4L182.2 354.0" stroke="#151515" stroke-width="1.5" fill="none"/>
<path d="M191.7 351.6L201.3 361.2M201.3 351.6L191.7 361.2" stroke="#151515" stroke-width="1.5" fill="none"/>
<path d="M198.6 345.9L208.2 355.5M208.2 345.9L198.6 355.5" stroke="#151515" stroke-width="1.5" fill="none"/>
<path d="M205.5 347.9L215.1 357.5M215.1 347.9L205.5 357.5" stroke="#151515" stroke-width="1.5" fill="none"/>
<path d="M214.4 339.2L224.0 348.8M224.0 339.2L214.4 348.8" stroke="#151515" stroke-width="1.5" fill="none"/>
<path d="M220.8 344.4L230.4 354.0M230.4 344.4L220.8 354.0" stroke="#151515" stroke-width="1.5" fill="none"/>
<path d="M228.5 348.7L238.1 358.3M238.1 348.7L228.5 358.3" stroke="#151515" stroke-width="1.5" fill="none"/>
<path d="M237.5 353.1L247.1 362.7M247.1 353.1L237.5 362.7" stroke="#151515" stroke-width="1.5" fill="none"/>
<path d="M244.7 358.8L254.3 368.4M254.3 358.8L244.7 368.4" stroke="#151515" stroke-width="1.5" fill="none"/>
<path d="M250.5 358.2L260.1 367.8M260.1 358.2L250.5 367.8" stroke="#151515" stroke-width="1.5" fill="none"/>
<path d="M260.6 358.8L270.2 368.4M270.2 358.8L260.6 368.4" stroke="#151515" stroke-width="1.5" fill="none"/>
<path d="M267.0 361.2L276.6 370.8M276.6 361.2L267.0 370.8" stroke="#151515" stroke-width="1.5" fill="none"/>
<path d="M273.6 366.9L283.2 376.5M283.2 366.9L273.6 376.5" stroke="#151515" stroke-width="1.5" fill="none"/>
<path d="M283.3 366.6L292.9 376.2M292.9 366.6L283.3 376.2" stroke="#151515" stroke-width="1.5" fill="none"/>
<rect x="61.1" y="312.1" width="8.8" height="8.8" fill="#151515" stroke="#151515" stroke-width="1.0"/>
<rect x="64.2" y="321.5" width="8.8" height="8.8" fill="#151515" stroke="#151515" stroke-width="1.0"/>
<rect x="70.0" y="355.3" width="8.8" height="8.8" fill="#151515" stroke="#151515" stroke-width="1.0"/>
<rect x="80.0" y="378.2" width="8.8" height="8.8" fill="#151515" stroke="#151515" stroke-width="1.0"/>
<rect x="86.5" y="354.5" width="8.8" height="8.8" fill="#151515" stroke="#151515" stroke-width="1.0"/>
<rect x="93.0" y="348.1" width="8.8" height="8.8" fill="#151515" stroke="#151515" stroke-width="1.0"/>
<rect x="102.1" y="332.3" width="8.8" height="8.8" fill="#151515" stroke="#151515" stroke-width="1.0"/>
<rect x="109.1" y="317.3" width="8.8" height="8.8" fill="#151515" stroke="#151515" stroke-width="1.0"/>
<rect x="115.6" y="330.9" width="8.8" height="8.8" fill="#151515" stroke="#151515" stroke-width="1.0"/>
<rect x="125.0" y="319.9" width="8.8" height="8.8" fill="#151515" stroke="#151515" stroke-width="1.0"/>
<rect x="131.6" y="328.3" width="8.8" height="8.8" fill="#151515" stroke="#151515" stroke-width="1.0"/>
<rect x="137.9" y="316.0" width="8.8" height="8.8" fill="#151515" stroke="#151515" stroke-width="1.0"/>
<rect x="144.4" y="324.4" width="8.8" height="8.8" fill="#151515" stroke="#151515" stroke-width="1.0"/>
<rect x="150.9" y="324.4" width="8.8" height="8.8" fill="#151515" stroke="#151515" stroke-width="1.0"/>
<rect x="159.9" y="330.2" width="8.8" height="8.8" fill="#151515" stroke="#151515" stroke-width="1.0"/>
<rect x="170.1" y="329.0" width="8.8" height="8.8" fill="#151515" stroke="#151515" stroke-width="1.0"/>
<rect x="175.9" y="328.6" width="8.8" height="8.8" fill="#151515" stroke="#151515" stroke-width="1.0"/>
<rect x="182.6" y="324.6" width="8.8" height="8.8" fill="#151515" stroke="#151515" stroke-width="1.0"/>
<rect x="192.1" y="333.3" width="8.8" height="8.8" fill="#151515" stroke="#151515" stroke-width="1.0"/>
<rect x="199.0" y="324.6" width="8.8" height="8.8" fill="#151515" stroke="#151515" stroke-width="1.0"/>
<rect x="205.9" y="320.3" width="8.8" height="8.8" fill="#151515" stroke="#151515" stroke-width="1.0"/>
<rect x="214.8" y="326.9" width="8.8" height="8.8" fill="#151515" stroke="#151515" stroke-width="1.0"/>
<rect x="221.2" y="323.2" width="8.8" height="8.8" fill="#151515" stroke="#151515" stroke-width="1.0"/>
<rect x="228.9" y="324.6" width="8.8" height="8.8" fill="#151515" stroke="#151515" stroke-width="1.0"/>
<rect x="237.9" y="324.6" width="8.8" height="8.8" fill="#151515" stroke="#151515" stroke-width="1.0"/>
<rect x="245.1" y="336.6" width="8.8" height="8.8" fill="#151515" stroke="#151515" stroke-width="1.0"/>
<rect x="250.9" y="331.8" width="8.8" height="8.8" fill="#151515" stroke="#151515" stroke-width="1.0"/>
<rect x="261.0" y="327.6" width="8.8" height="8.8" fill="#151515" stroke="#151515" stroke-width="1.0"/>
<rect x="267.4" y="329.0" width="8.8" height="8.8" fill="#151515" stroke="#151515" stroke-width="1.0"/>
<rect x="274.0" y="333.3" width="8.8" height="8.8" fill="#151515" stroke="#151515" stroke-width="1.0"/>
<rect x="283.7" y="333.3" width="8.8" height="8.8" fill="#151515" stroke="#151515" stroke-width="1.0"/>
<path d="M65.5 311.1L70.9 316.5L65.5 321.9L60.1 316.5Z" fill="#151515"/>
<path d="M68.6 319.6L74.0 325.0L68.6 330.4L63.2 325.0Z" fill="#151515"/>
<path d="M74.4 352.6L79.8 358.0L74.4 363.4L69.0 358.0Z" fill="#151515"/>
<path d="M84.4 348.6L89.8 354.0L84.4 359.4L79.0 354.0Z" fill="#151515"/>
<path d="M90.9 331.3L96.3 336.7L90.9 342.1L85.5 336.7Z" fill="#151515"/>
<path d="M97.4 321.2L102.8 326.6L97.4 332.0L92.0 326.6Z" fill="#151515"/>
<path d="M106.5 320.5L111.9 325.9L106.5 331.3L101.1 325.9Z" fill="#151515"/>
<path d="M113.5 316.2L118.9 321.6L113.5 327.0L108.1 321.6Z" fill="#151515"/>
<path d="M120.0 316.6L125.4 322.0L120.0 327.4L114.6 322.0Z" fill="#151515"/>
<path d="M129.4 318.9L134.8 324.3L129.4 329.7L124.0 324.3Z" fill="#151515"/>
<path d="M136.0 312.6L141.4 318.0L136.0 323.4L130.6 318.0Z" fill="#151515"/>
<path d="M142.3 312.6L147.7 318.0L142.3 323.4L136.9 318.0Z" fill="#151515"/>
<path d="M148.8 313.0L154.2 318.4L148.8 323.8L143.4 318.4Z" fill="#151515"/>
<path d="M155.3 305.9L160.7 311.3L155.3 316.7L149.9 311.3Z" fill="#151515"/>
<path d="M164.3 315.0L169.7 320.4L164.3 325.8L158.9 320.4Z" fill="#151515"/>
<path d="M174.5 319.3L179.9 324.7L174.5 330.1L169.1 324.7Z" fill="#151515"/>
<path d="M180.3 309.2L185.7 314.6L180.3 320.0L174.9 314.6Z" fill="#151515"/>
<path d="M187.0 300.0L192.4 305.4L187.0 310.8L181.6 305.4Z" fill="#151515"/>
<path d="M196.5 296.2L201.9 301.6L196.5 307.0L191.1 301.6Z" fill="#151515"/>
<path d="M203.4 296.2L208.8 301.6L203.4 307.0L198.0 301.6Z" fill="#151515"/>
<path d="M210.3 291.9L215.7 297.3L210.3 302.7L204.9 297.3Z" fill="#151515"/>
<path d="M219.2 286.1L224.6 291.5L219.2 296.9L213.8 291.5Z" fill="#151515"/>
<path d="M225.6 300.0L231.0 305.4L225.6 310.8L220.2 305.4Z" fill="#151515"/>
<path d="M233.3 293.3L238.7 298.7L233.3 304.1L227.9 298.7Z" fill="#151515"/>
<path d="M242.3 298.2L247.7 303.6L242.3 309.0L236.9 303.6Z" fill="#151515"/>
<path d="M249.5 303.4L254.9 308.8L249.5 314.2L244.1 308.8Z" fill="#151515"/>
<path d="M255.3 303.4L260.7 308.8L255.3 314.2L249.9 308.8Z" fill="#151515"/>
<path d="M265.4 304.9L270.8 310.3L265.4 315.7L260.0 310.3Z" fill="#151515"/>
<path d="M271.8 308.6L277.2 314.0L271.8 319.4L266.4 314.0Z" fill="#151515"/>
<path d="M278.4 303.4L283.8 308.8L278.4 314.2L273.0 308.8Z" fill="#151515"/>
<path d="M288.1 298.0L293.5 303.4L288.1 308.8L282.7 303.4Z" fill="#151515"/>
<polyline points="294.5,302.6 301.4,302.6 301.4,371.7 294.5,371.7" fill="none" stroke="#151515" stroke-width="1.2" stroke-linejoin="round"/>
<text x="302.6" y="347.0" font-size="12.5" text-anchor="start">*</text>
<line x1="379.4" y1="306.2" x2="379.4" y2="441.3" stroke="#151515" stroke-width="1.5"/>
<line x1="375.9" y1="306.2" x2="379.4" y2="306.2" stroke="#151515" stroke-width="1.5"/>
<text x="375.5" y="310.5" font-size="12.3" text-anchor="end">30</text>
<line x1="375.9" y1="351.2" x2="379.4" y2="351.2" stroke="#151515" stroke-width="1.5"/>
<text x="375.5" y="355.5" font-size="12.3" text-anchor="end">20</text>
<line x1="375.9" y1="396.2" x2="379.4" y2="396.2" stroke="#151515" stroke-width="1.5"/>
<text x="375.5" y="400.5" font-size="12.3" text-anchor="end">10</text>
<line x1="375.9" y1="441.2" x2="379.4" y2="441.2" stroke="#151515" stroke-width="1.5"/>
<text x="375.5" y="445.5" font-size="12.3" text-anchor="end">0</text>
<line x1="378.8" y1="441.0" x2="506.3" y2="441.0" stroke="#151515" stroke-width="1.5"/>
<line x1="401.5" y1="441.0" x2="401.5" y2="445.0" stroke="#151515" stroke-width="1.5"/>
<line x1="446.5" y1="441.0" x2="446.5" y2="445.0" stroke="#151515" stroke-width="1.5"/>
<line x1="492.0" y1="441.0" x2="492.0" y2="445.0" stroke="#151515" stroke-width="1.5"/>
<text x="339" y="374" font-size="13.4" text-anchor="middle" transform="rotate(-90 339 374)">Frequency of</text>
<text x="355.3" y="374.7" font-size="13.4" text-anchor="middle" transform="rotate(-90 355.3 374.7)">CD19<tspan dy="-4" font-size="10">+</tspan><tspan dy="4">CD93</tspan><tspan dy="-4" font-size="10">-</tspan><tspan dy="4">GL7</tspan><tspan dy="-4" font-size="10">+</tspan><tspan dy="4"> cells (%)</tspan></text>
<text x="444.0" y="287.3" font-size="13.2" text-anchor="middle">p=0.22</text>
<polyline points="399.5,294.8 399.5,288.8 493.0,288.8 493.0,294.8" fill="none" stroke="#151515" stroke-width="1.2" stroke-linejoin="round"/>
<text x="421.5" y="307.3" font-size="13.3" text-anchor="middle">p=0.008</text>
<polyline points="399.5,317.5 399.5,310.5 446.3,310.5 446.3,317.5" fill="none" stroke="#151515" stroke-width="1.2" stroke-linejoin="round"/>
<text x="472.2" y="307.3" font-size="13.4" text-anchor="middle">p=0.008</text>
<polyline points="448.0,317.5 448.0,310.5 493.0,310.5 493.0,317.5" fill="none" stroke="#151515" stroke-width="1.2" stroke-linejoin="round"/>
<line x1="402.0" y1="389.5" x2="402.0" y2="406.3" stroke="#151515" stroke-width="1.5"/>
<line x1="397.5" y1="406.3" x2="407.5" y2="406.3" stroke="#151515" stroke-width="1.5"/>
<rect x="391.0" y="380.5" width="9" height="9" fill="#151515" stroke="#151515" stroke-width="1.0"/>
<rect x="403.5" y="381.8" width="9" height="9" fill="#151515" stroke="#151515" stroke-width="1.0"/>
<rect x="393.5" y="385.0" width="9" height="9" fill="#151515" stroke="#151515" stroke-width="1.0"/>
<rect x="397.5" y="385.5" width="9" height="9" fill="#151515" stroke="#151515" stroke-width="1.0"/>
<rect x="397.5" y="401.8" width="9" height="9" fill="#151515" stroke="#151515" stroke-width="1.0"/>
<line x1="387.5" y1="389.5" x2="416.3" y2="389.5" stroke="#151515" stroke-width="1.3"/>
<line x1="446.0" y1="323.0" x2="446.0" y2="376.3" stroke="#151515" stroke-width="1.5"/>
<line x1="440.5" y1="323.0" x2="452.5" y2="323.0" stroke="#151515" stroke-width="1.2"/>
<line x1="440.5" y1="376.3" x2="452.5" y2="376.3" stroke="#151515" stroke-width="1.2"/>
<path d="M441.2 318.2L450.8 327.8M450.8 318.2L441.2 327.8" stroke="#151515" stroke-width="1.5" fill="none"/>
<path d="M441.2 352.7L450.8 362.3M450.8 352.7L441.2 362.3" stroke="#151515" stroke-width="1.5" fill="none"/>
<path d="M432.2 361.5L441.8 371.1M441.8 361.5L432.2 371.1" stroke="#151515" stroke-width="1.5" fill="none"/>
<path d="M441.2 371.5L450.8 381.1M450.8 371.5L441.2 381.1" stroke="#151515" stroke-width="1.5" fill="none"/>
<path d="M451.5 368.2L461.1 377.8M461.1 368.2L451.5 377.8" stroke="#151515" stroke-width="1.5" fill="none"/>
<line x1="432.5" y1="366.3" x2="461.3" y2="366.3" stroke="#151515" stroke-width="1.3"/>
<line x1="492.0" y1="389.5" x2="492.0" y2="417.0" stroke="#151515" stroke-width="1.5"/>
<line x1="486.0" y1="389.5" x2="498.0" y2="389.5" stroke="#151515" stroke-width="1.2"/>
<line x1="486.0" y1="417.0" x2="498.0" y2="417.0" stroke="#151515" stroke-width="1.2"/>
<path d="M492.0 384.2L497.3 389.5L492.0 394.8L486.7 389.5Z" fill="#151515"/>
<path d="M492.0 396.0L497.3 401.3L492.0 406.6L486.7 401.3Z" fill="#151515"/>
<path d="M482.5 401.0L487.8 406.3L482.5 411.6L477.2 406.3Z" fill="#151515"/>
<path d="M501.3 401.0L506.6 406.3L501.3 411.6L496.0 406.3Z" fill="#151515"/>
<path d="M492.0 411.7L497.3 417.0L492.0 422.3L486.7 417.0Z" fill="#151515"/>
<line x1="478.8" y1="406.0" x2="505.0" y2="406.0" stroke="#151515" stroke-width="1.3"/>
<text x="5.3" y="488.7" font-size="16.5" text-anchor="start">E</text>
<line x1="79.6" y1="491.4" x2="103.3" y2="491.4" stroke="#151515" stroke-width="1.4"/>
<circle cx="92.0" cy="491.4" r="3.6" fill="none" stroke="#151515" stroke-width="1.4"/>
<text x="108.3" y="495.5" font-size="13.3" text-anchor="start">TCDBM only (n=10)</text>
<line x1="79.6" y1="505.3" x2="103.3" y2="505.3" stroke="#999" stroke-width="1.3"/>
<circle cx="92.0" cy="505.3" r="4.2" fill="#999" stroke="#151515" stroke-width="1.3"/>
<text x="108.3" y="509.6" font-size="13.3" text-anchor="start">TCDBM+Sp (n=10)</text>
<line x1="78.8" y1="521.2" x2="104.8" y2="521.2" stroke="#151515" stroke-width="1.5" stroke-dasharray="3.5,2.5"/>
<rect x="88.6" y="517.0" width="8.4" height="8.4" fill="#fff" stroke="#151515" stroke-width="1.4"/>
<line x1="88.5" y1="521.2" x2="97.0" y2="521.2" stroke="#151515" stroke-width="1.3"/>
<text x="109.6" y="525.2" font-size="13.3" text-anchor="start">BAFF KO TCDBM only (n=10)</text>
<line x1="78.8" y1="535.7" x2="104.8" y2="535.7" stroke="#151515" stroke-width="1.6" stroke-dasharray="3.5,2.5"/>
<rect x="89.0" y="531.7" width="8" height="8" fill="#151515" stroke="#151515" stroke-width="1.0"/>
<text x="109.6" y="540.2" font-size="13.3" text-anchor="start">BAFF KO TCDBM+Sp (n=10)</text>
<line x1="66.0" y1="516.6" x2="66.0" y2="660.0" stroke="#151515" stroke-width="1.5"/>
<line x1="62.5" y1="516.6" x2="66.0" y2="516.6" stroke="#151515" stroke-width="1.5"/>
<text x="60.6" y="525.0" font-size="12.5" text-anchor="end">110</text>
<line x1="62.5" y1="545.2" x2="66.0" y2="545.2" stroke="#151515" stroke-width="1.5"/>
<text x="60.6" y="551.8" font-size="12.5" text-anchor="end">100</text>
<line x1="62.5" y1="573.8" x2="66.0" y2="573.8" stroke="#151515" stroke-width="1.5"/>
<text x="60.6" y="581.2" font-size="12.5" text-anchor="end">90</text>
<line x1="62.5" y1="602.5" x2="66.0" y2="602.5" stroke="#151515" stroke-width="1.5"/>
<text x="60.6" y="608.3" font-size="12.5" text-anchor="end">80</text>
<line x1="62.5" y1="631.1" x2="66.0" y2="631.1" stroke="#151515" stroke-width="1.5"/>
<text x="60.6" y="638.3" font-size="12.5" text-anchor="end">70</text>
<line x1="62.5" y1="659.7" x2="66.0" y2="659.7" stroke="#151515" stroke-width="1.5"/>
<text x="60.6" y="665.9" font-size="12.5" text-anchor="end">60</text>
<line x1="65.4" y1="659.7" x2="298.8" y2="659.7" stroke="#151515" stroke-width="1.5"/>
<line x1="65.8" y1="659.7" x2="65.8" y2="663.7" stroke="#151515" stroke-width="1.5"/>
<text x="65.8" y="674.5" font-size="12.6" text-anchor="middle">0</text>
<line x1="94.9" y1="659.7" x2="94.9" y2="663.7" stroke="#151515" stroke-width="1.5"/>
<text x="94.9" y="674.5" font-size="12.6" text-anchor="middle">10</text>
<line x1="124.0" y1="659.7" x2="124.0" y2="663.7" stroke="#151515" stroke-width="1.5"/>
<text x="124.0" y="674.5" font-size="12.6" text-anchor="middle">20</text>
<line x1="153.2" y1="659.7" x2="153.2" y2="663.7" stroke="#151515" stroke-width="1.5"/>
<text x="153.2" y="674.5" font-size="12.6" text-anchor="middle">30</text>
<line x1="182.3" y1="659.7" x2="182.3" y2="663.7" stroke="#151515" stroke-width="1.5"/>
<text x="182.3" y="674.5" font-size="12.6" text-anchor="middle">40</text>
<line x1="211.4" y1="659.7" x2="211.4" y2="663.7" stroke="#151515" stroke-width="1.5"/>
<text x="211.4" y="674.5" font-size="12.6" text-anchor="middle">50</text>
<line x1="240.6" y1="659.7" x2="240.6" y2="663.7" stroke="#151515" stroke-width="1.5"/>
<text x="240.6" y="674.5" font-size="12.6" text-anchor="middle">60</text>
<line x1="269.7" y1="659.7" x2="269.7" y2="663.7" stroke="#151515" stroke-width="1.5"/>
<text x="269.7" y="674.5" font-size="12.6" text-anchor="middle">70</text>
<line x1="298.8" y1="659.7" x2="298.8" y2="663.7" stroke="#151515" stroke-width="1.5"/>
<text x="298.8" y="674.5" font-size="12.6" text-anchor="middle">80</text>
<text x="186.7" y="689.0" font-size="12.4" text-anchor="middle">Days post-HCT</text>
<text x="22.3" y="588.9" font-size="13" text-anchor="middle" transform="rotate(-90 22.3 588.9)">Percentage of Original</text>
<text x="36.9" y="587.1" font-size="13" text-anchor="middle" transform="rotate(-90 36.9 587.1)">Body Weight (%)</text>
<line x1="140.8" y1="613.6" x2="140.8" y2="621.6" stroke="#b0b0b0" stroke-width="0.9"/>
<line x1="137.8" y1="613.6" x2="143.8" y2="613.6" stroke="#b0b0b0" stroke-width="0.9"/>
<line x1="137.8" y1="621.6" x2="143.8" y2="621.6" stroke="#b0b0b0" stroke-width="0.9"/>
<line x1="144.5" y1="614.3" x2="144.5" y2="622.3" stroke="#b0b0b0" stroke-width="0.9"/>
<line x1="141.5" y1="614.3" x2="147.5" y2="614.3" stroke="#b0b0b0" stroke-width="0.9"/>
<line x1="141.5" y1="622.3" x2="147.5" y2="622.3" stroke="#b0b0b0" stroke-width="0.9"/>
<line x1="152.7" y1="617.5" x2="152.7" y2="625.5" stroke="#b0b0b0" stroke-width="0.9"/>
<line x1="149.7" y1="617.5" x2="155.7" y2="617.5" stroke="#b0b0b0" stroke-width="0.9"/>
<line x1="149.7" y1="625.5" x2="155.7" y2="625.5" stroke="#b0b0b0" stroke-width="0.9"/>
<line x1="161.8" y1="613.0" x2="161.8" y2="621.0" stroke="#b0b0b0" stroke-width="0.9"/>
<line x1="158.8" y1="613.0" x2="164.8" y2="613.0" stroke="#b0b0b0" stroke-width="0.9"/>
<line x1="158.8" y1="621.0" x2="164.8" y2="621.0" stroke="#b0b0b0" stroke-width="0.9"/>
<line x1="172.5" y1="614.3" x2="172.5" y2="622.3" stroke="#b0b0b0" stroke-width="0.9"/>
<line x1="169.5" y1="614.3" x2="175.5" y2="614.3" stroke="#b0b0b0" stroke-width="0.9"/>
<line x1="169.5" y1="622.3" x2="175.5" y2="622.3" stroke="#b0b0b0" stroke-width="0.9"/>
<line x1="187.8" y1="612.4" x2="187.8" y2="620.4" stroke="#b0b0b0" stroke-width="0.9"/>
<line x1="184.8" y1="612.4" x2="190.8" y2="612.4" stroke="#b0b0b0" stroke-width="0.9"/>
<line x1="184.8" y1="620.4" x2="190.8" y2="620.4" stroke="#b0b0b0" stroke-width="0.9"/>
<line x1="194.0" y1="613.6" x2="194.0" y2="621.6" stroke="#b0b0b0" stroke-width="0.9"/>
<line x1="191.0" y1="613.6" x2="197.0" y2="613.6" stroke="#b0b0b0" stroke-width="0.9"/>
<line x1="191.0" y1="621.6" x2="197.0" y2="621.6" stroke="#b0b0b0" stroke-width="0.9"/>
<line x1="202.0" y1="609.5" x2="202.0" y2="617.5" stroke="#b0b0b0" stroke-width="0.9"/>
<line x1="199.0" y1="609.5" x2="205.0" y2="609.5" stroke="#b0b0b0" stroke-width="0.9"/>
<line x1="199.0" y1="617.5" x2="205.0" y2="617.5" stroke="#b0b0b0" stroke-width="0.9"/>
<line x1="207.5" y1="616.3" x2="207.5" y2="624.3" stroke="#b0b0b0" stroke-width="0.9"/>
<line x1="204.5" y1="616.3" x2="210.5" y2="616.3" stroke="#b0b0b0" stroke-width="0.9"/>
<line x1="204.5" y1="624.3" x2="210.5" y2="624.3" stroke="#b0b0b0" stroke-width="0.9"/>
<line x1="214.5" y1="612.0" x2="214.5" y2="620.0" stroke="#b0b0b0" stroke-width="0.9"/>
<line x1="211.5" y1="612.0" x2="217.5" y2="612.0" stroke="#b0b0b0" stroke-width="0.9"/>
<line x1="211.5" y1="620.0" x2="217.5" y2="620.0" stroke="#b0b0b0" stroke-width="0.9"/>
<line x1="222.5" y1="616.3" x2="222.5" y2="624.3" stroke="#b0b0b0" stroke-width="0.9"/>
<line x1="219.5" y1="616.3" x2="225.5" y2="616.3" stroke="#b0b0b0" stroke-width="0.9"/>
<line x1="219.5" y1="624.3" x2="225.5" y2="624.3" stroke="#b0b0b0" stroke-width="0.9"/>
<line x1="228.3" y1="612.0" x2="228.3" y2="620.0" stroke="#b0b0b0" stroke-width="0.9"/>
<line x1="225.3" y1="612.0" x2="231.3" y2="612.0" stroke="#b0b0b0" stroke-width="0.9"/>
<line x1="225.3" y1="620.0" x2="231.3" y2="620.0" stroke="#b0b0b0" stroke-width="0.9"/>
<line x1="234.5" y1="612.0" x2="234.5" y2="620.0" stroke="#b0b0b0" stroke-width="0.9"/>
<line x1="231.5" y1="612.0" x2="237.5" y2="612.0" stroke="#b0b0b0" stroke-width="0.9"/>
<line x1="231.5" y1="620.0" x2="237.5" y2="620.0" stroke="#b0b0b0" stroke-width="0.9"/>
<line x1="242.5" y1="612.5" x2="242.5" y2="620.5" stroke="#b0b0b0" stroke-width="0.9"/>
<line x1="239.5" y1="612.5" x2="245.5" y2="612.5" stroke="#b0b0b0" stroke-width="0.9"/>
<line x1="239.5" y1="620.5" x2="245.5" y2="620.5" stroke="#b0b0b0" stroke-width="0.9"/>
<line x1="247.8" y1="612.5" x2="247.8" y2="620.5" stroke="#b0b0b0" stroke-width="0.9"/>
<line x1="244.8" y1="612.5" x2="250.8" y2="612.5" stroke="#b0b0b0" stroke-width="0.9"/>
<line x1="244.8" y1="620.5" x2="250.8" y2="620.5" stroke="#b0b0b0" stroke-width="0.9"/>
<line x1="254.5" y1="616.3" x2="254.5" y2="624.3" stroke="#b0b0b0" stroke-width="0.9"/>
<line x1="251.5" y1="616.3" x2="257.5" y2="616.3" stroke="#b0b0b0" stroke-width="0.9"/>
<line x1="251.5" y1="624.3" x2="257.5" y2="624.3" stroke="#b0b0b0" stroke-width="0.9"/>
<line x1="262.8" y1="621.3" x2="262.8" y2="629.3" stroke="#b0b0b0" stroke-width="0.9"/>
<line x1="259.8" y1="621.3" x2="265.8" y2="621.3" stroke="#b0b0b0" stroke-width="0.9"/>
<line x1="259.8" y1="629.3" x2="265.8" y2="629.3" stroke="#b0b0b0" stroke-width="0.9"/>
<line x1="269.0" y1="608.8" x2="269.0" y2="616.8" stroke="#b0b0b0" stroke-width="0.9"/>
<line x1="266.0" y1="608.8" x2="272.0" y2="608.8" stroke="#b0b0b0" stroke-width="0.9"/>
<line x1="266.0" y1="616.8" x2="272.0" y2="616.8" stroke="#b0b0b0" stroke-width="0.9"/>
<line x1="275.5" y1="607.5" x2="275.5" y2="615.5" stroke="#b0b0b0" stroke-width="0.9"/>
<line x1="272.5" y1="607.5" x2="278.5" y2="607.5" stroke="#b0b0b0" stroke-width="0.9"/>
<line x1="272.5" y1="615.5" x2="278.5" y2="615.5" stroke="#b0b0b0" stroke-width="0.9"/>
<line x1="283.3" y1="607.5" x2="283.3" y2="615.5" stroke="#b0b0b0" stroke-width="0.9"/>
<line x1="280.3" y1="607.5" x2="286.3" y2="607.5" stroke="#b0b0b0" stroke-width="0.9"/>
<line x1="280.3" y1="615.5" x2="286.3" y2="615.5" stroke="#b0b0b0" stroke-width="0.9"/>
<line x1="290.3" y1="600.0" x2="290.3" y2="608.0" stroke="#b0b0b0" stroke-width="0.9"/>
<line x1="287.3" y1="600.0" x2="293.3" y2="600.0" stroke="#b0b0b0" stroke-width="0.9"/>
<line x1="287.3" y1="608.0" x2="293.3" y2="608.0" stroke="#b0b0b0" stroke-width="0.9"/>
<polyline points="65.8,545.0 76.3,585.0 78.8,588.0 85.0,612.5 91.3,611.3 100.0,595.5 109.5,591.3 120.0,596.3 126.3,601.3 140.8,613.6 144.5,614.3 152.7,617.5 161.8,613.0 172.5,614.3 187.8,612.4 194.0,613.6 202.0,609.5 207.5,616.3 214.5,612.0 222.5,616.3 228.3,612.0 234.5,612.0 242.5,612.5 247.8,612.5 254.5,616.3 262.8,621.3 269.0,608.8 275.5,607.5 283.3,607.5 290.3,600.0" fill="none" stroke="#888" stroke-width="1.1" stroke-linejoin="round"/>
<polyline points="65.8,545.0 76.3,583.8 78.8,590.0 85.0,605.0 91.3,594.5 100.0,588.0 109.5,580.0 120.0,582.5 126.3,585.5 140.8,603.3 144.5,608.5 152.7,622.7 161.8,613.0 172.5,604.0 187.8,604.0 194.0,603.3 202.0,600.5 207.5,609.5 214.5,598.8 222.5,609.5 228.3,602.0 234.5,602.0 242.5,604.5 247.8,604.5 254.5,608.0 262.8,609.5 269.0,594.5 275.5,601.3 283.3,601.3 290.3,595.5" fill="none" stroke="#151515" stroke-width="2.0" stroke-dasharray="4,2.5" stroke-linejoin="round"/>
<polyline points="65.8,545.0 76.3,582.5 78.8,585.0 85.0,587.0 91.3,567.5 100.0,562.5 109.5,555.0 120.0,554.5 126.3,555.0 140.8,558.0 144.5,559.5 152.7,555.5 161.8,556.3 172.5,545.8 187.8,561.3 194.0,565.2 202.0,562.0 207.5,565.0 214.5,560.0 222.5,557.5 228.3,556.3 234.5,558.0 242.5,557.5 247.8,563.8 254.5,565.0 262.8,567.0 269.0,552.5 275.5,553.8 283.3,555.0 290.3,550.0" fill="none" stroke="#151515" stroke-width="1.5" stroke-dasharray="3,2" stroke-linejoin="round"/>
<polyline points="65.8,545.0 76.3,583.8 78.8,584.0 85.0,584.5 91.3,565.0 100.0,561.3 109.5,557.5 120.0,555.0 126.3,556.3 140.8,558.0 144.5,558.0 152.7,562.6 161.8,558.0 172.5,555.5 187.8,558.0 194.0,556.8 202.0,557.0 207.5,559.5 214.5,553.8 222.5,558.8 228.3,557.5 234.5,558.8 242.5,558.0 247.8,560.0 254.5,562.0 262.8,562.0 269.0,555.0 275.5,557.5 283.3,558.8 290.3,552.5" fill="none" stroke="#151515" stroke-width="1.5" stroke-linejoin="round"/>
<circle cx="65.8" cy="545.0" r="4.4" fill="#9a9a9a" stroke="#151515" stroke-width="1.3"/>
<circle cx="76.3" cy="585.0" r="4.4" fill="#9a9a9a" stroke="#151515" stroke-width="1.3"/>
<circle cx="78.8" cy="588.0" r="4.4" fill="#9a9a9a" stroke="#151515" stroke-width="1.3"/>
<circle cx="85.0" cy="612.5" r="4.4" fill="#9a9a9a" stroke="#151515" stroke-width="1.3"/>
<circle cx="91.3" cy="611.3" r="4.4" fill="#9a9a9a" stroke="#151515" stroke-width="1.3"/>
<circle cx="100.0" cy="595.5" r="4.4" fill="#9a9a9a" stroke="#151515" stroke-width="1.3"/>
<circle cx="109.5" cy="591.3" r="4.4" fill="#9a9a9a" stroke="#151515" stroke-width="1.3"/>
<circle cx="120.0" cy="596.3" r="4.4" fill="#9a9a9a" stroke="#151515" stroke-width="1.3"/>
<circle cx="126.3" cy="601.3" r="4.4" fill="#9a9a9a" stroke="#151515" stroke-width="1.3"/>
<circle cx="140.8" cy="613.6" r="4.4" fill="#9a9a9a" stroke="#151515" stroke-width="1.3"/>
<circle cx="144.5" cy="614.3" r="4.4" fill="#9a9a9a" stroke="#151515" stroke-width="1.3"/>
<circle cx="152.7" cy="617.5" r="4.4" fill="#9a9a9a" stroke="#151515" stroke-width="1.3"/>
<circle cx="161.8" cy="613.0" r="4.4" fill="#9a9a9a" stroke="#151515" stroke-width="1.3"/>
<circle cx="172.5" cy="614.3" r="4.4" fill="#9a9a9a" stroke="#151515" stroke-width="1.3"/>
<circle cx="187.8" cy="612.4" r="4.4" fill="#9a9a9a" stroke="#151515" stroke-width="1.3"/>
<circle cx="194.0" cy="613.6" r="4.4" fill="#9a9a9a" stroke="#151515" stroke-width="1.3"/>
<circle cx="202.0" cy="609.5" r="4.4" fill="#9a9a9a" stroke="#151515" stroke-width="1.3"/>
<circle cx="207.5" cy="616.3" r="4.4" fill="#9a9a9a" stroke="#151515" stroke-width="1.3"/>
<circle cx="214.5" cy="612.0" r="4.4" fill="#9a9a9a" stroke="#151515" stroke-width="1.3"/>
<circle cx="222.5" cy="616.3" r="4.4" fill="#9a9a9a" stroke="#151515" stroke-width="1.3"/>
<circle cx="228.3" cy="612.0" r="4.4" fill="#9a9a9a" stroke="#151515" stroke-width="1.3"/>
<circle cx="234.5" cy="612.0" r="4.4" fill="#9a9a9a" stroke="#151515" stroke-width="1.3"/>
<circle cx="242.5" cy="612.5" r="4.4" fill="#9a9a9a" stroke="#151515" stroke-width="1.3"/>
<circle cx="247.8" cy="612.5" r="4.4" fill="#9a9a9a" stroke="#151515" stroke-width="1.3"/>
<circle cx="254.5" cy="616.3" r="4.4" fill="#9a9a9a" stroke="#151515" stroke-width="1.3"/>
<circle cx="262.8" cy="621.3" r="4.4" fill="#9a9a9a" stroke="#151515" stroke-width="1.3"/>
<circle cx="269.0" cy="608.8" r="4.4" fill="#9a9a9a" stroke="#151515" stroke-width="1.3"/>
<circle cx="275.5" cy="607.5" r="4.4" fill="#9a9a9a" stroke="#151515" stroke-width="1.3"/>
<circle cx="283.3" cy="607.5" r="4.4" fill="#9a9a9a" stroke="#151515" stroke-width="1.3"/>
<circle cx="290.3" cy="600.0" r="4.4" fill="#9a9a9a" stroke="#151515" stroke-width="1.3"/>
<rect x="62.0" y="541.2" width="7.6" height="7.6" fill="#151515" stroke="#151515" stroke-width="1.0"/>
<rect x="72.5" y="580.0" width="7.6" height="7.6" fill="#151515" stroke="#151515" stroke-width="1.0"/>
<rect x="75.0" y="586.2" width="7.6" height="7.6" fill="#151515" stroke="#151515" stroke-width="1.0"/>
<rect x="81.2" y="601.2" width="7.6" height="7.6" fill="#151515" stroke="#151515" stroke-width="1.0"/>
<rect x="87.5" y="590.7" width="7.6" height="7.6" fill="#151515" stroke="#151515" stroke-width="1.0"/>
<rect x="96.2" y="584.2" width="7.6" height="7.6" fill="#151515" stroke="#151515" stroke-width="1.0"/>
<rect x="105.7" y="576.2" width="7.6" height="7.6" fill="#151515" stroke="#151515" stroke-width="1.0"/>
<rect x="116.2" y="578.7" width="7.6" height="7.6" fill="#151515" stroke="#151515" stroke-width="1.0"/>
<rect x="122.5" y="581.7" width="7.6" height="7.6" fill="#151515" stroke="#151515" stroke-width="1.0"/>
<rect x="137.0" y="599.5" width="7.6" height="7.6" fill="#151515" stroke="#151515" stroke-width="1.0"/>
<rect x="140.7" y="604.7" width="7.6" height="7.6" fill="#151515" stroke="#151515" stroke-width="1.0"/>
<rect x="148.9" y="618.9" width="7.6" height="7.6" fill="#151515" stroke="#151515" stroke-width="1.0"/>
<rect x="158.0" y="609.2" width="7.6" height="7.6" fill="#151515" stroke="#151515" stroke-width="1.0"/>
<rect x="168.7" y="600.2" width="7.6" height="7.6" fill="#151515" stroke="#151515" stroke-width="1.0"/>
<rect x="184.0" y="600.2" width="7.6" height="7.6" fill="#151515" stroke="#151515" stroke-width="1.0"/>
<rect x="190.2" y="599.5" width="7.6" height="7.6" fill="#151515" stroke="#151515" stroke-width="1.0"/>
<rect x="198.2" y="596.7" width="7.6" height="7.6" fill="#151515" stroke="#151515" stroke-width="1.0"/>
<rect x="203.7" y="605.7" width="7.6" height="7.6" fill="#151515" stroke="#151515" stroke-width="1.0"/>
<rect x="210.7" y="595.0" width="7.6" height="7.6" fill="#151515" stroke="#151515" stroke-width="1.0"/>
<rect x="218.7" y="605.7" width="7.6" height="7.6" fill="#151515" stroke="#151515" stroke-width="1.0"/>
<rect x="224.5" y="598.2" width="7.6" height="7.6" fill="#151515" stroke="#151515" stroke-width="1.0"/>
<rect x="230.7" y="598.2" width="7.6" height="7.6" fill="#151515" stroke="#151515" stroke-width="1.0"/>
<rect x="238.7" y="600.7" width="7.6" height="7.6" fill="#151515" stroke="#151515" stroke-width="1.0"/>
<rect x="244.0" y="600.7" width="7.6" height="7.6" fill="#151515" stroke="#151515" stroke-width="1.0"/>
<rect x="250.7" y="604.2" width="7.6" height="7.6" fill="#151515" stroke="#151515" stroke-width="1.0"/>
<rect x="259.0" y="605.7" width="7.6" height="7.6" fill="#151515" stroke="#151515" stroke-width="1.0"/>
<rect x="265.2" y="590.7" width="7.6" height="7.6" fill="#151515" stroke="#151515" stroke-width="1.0"/>
<rect x="271.7" y="597.5" width="7.6" height="7.6" fill="#151515" stroke="#151515" stroke-width="1.0"/>
<rect x="279.5" y="597.5" width="7.6" height="7.6" fill="#151515" stroke="#151515" stroke-width="1.0"/>
<rect x="286.5" y="591.7" width="7.6" height="7.6" fill="#151515" stroke="#151515" stroke-width="1.0"/>
<rect x="61.9" y="541.1" width="7.8" height="7.8" fill="none" stroke="#151515" stroke-width="1.4"/>
<rect x="72.4" y="578.6" width="7.8" height="7.8" fill="none" stroke="#151515" stroke-width="1.4"/>
<rect x="74.9" y="581.1" width="7.8" height="7.8" fill="none" stroke="#151515" stroke-width="1.4"/>
<rect x="81.1" y="583.1" width="7.8" height="7.8" fill="none" stroke="#151515" stroke-width="1.4"/>
<rect x="87.4" y="563.6" width="7.8" height="7.8" fill="none" stroke="#151515" stroke-width="1.4"/>
<rect x="96.1" y="558.6" width="7.8" height="7.8" fill="none" stroke="#151515" stroke-width="1.4"/>
<rect x="105.6" y="551.1" width="7.8" height="7.8" fill="none" stroke="#151515" stroke-width="1.4"/>
<rect x="116.1" y="550.6" width="7.8" height="7.8" fill="none" stroke="#151515" stroke-width="1.4"/>
<rect x="122.4" y="551.1" width="7.8" height="7.8" fill="none" stroke="#151515" stroke-width="1.4"/>
<rect x="136.9" y="554.1" width="7.8" height="7.8" fill="none" stroke="#151515" stroke-width="1.4"/>
<rect x="140.6" y="555.6" width="7.8" height="7.8" fill="none" stroke="#151515" stroke-width="1.4"/>
<rect x="148.8" y="551.6" width="7.8" height="7.8" fill="none" stroke="#151515" stroke-width="1.4"/>
<rect x="157.9" y="552.4" width="7.8" height="7.8" fill="none" stroke="#151515" stroke-width="1.4"/>
<rect x="168.6" y="541.9" width="7.8" height="7.8" fill="none" stroke="#151515" stroke-width="1.4"/>
<rect x="183.9" y="557.4" width="7.8" height="7.8" fill="none" stroke="#151515" stroke-width="1.4"/>
<rect x="190.1" y="561.3" width="7.8" height="7.8" fill="none" stroke="#151515" stroke-width="1.4"/>
<rect x="198.1" y="558.1" width="7.8" height="7.8" fill="none" stroke="#151515" stroke-width="1.4"/>
<rect x="203.6" y="561.1" width="7.8" height="7.8" fill="none" stroke="#151515" stroke-width="1.4"/>
<rect x="210.6" y="556.1" width="7.8" height="7.8" fill="none" stroke="#151515" stroke-width="1.4"/>
<rect x="218.6" y="553.6" width="7.8" height="7.8" fill="none" stroke="#151515" stroke-width="1.4"/>
<rect x="224.4" y="552.4" width="7.8" height="7.8" fill="none" stroke="#151515" stroke-width="1.4"/>
<rect x="230.6" y="554.1" width="7.8" height="7.8" fill="none" stroke="#151515" stroke-width="1.4"/>
<rect x="238.6" y="553.6" width="7.8" height="7.8" fill="none" stroke="#151515" stroke-width="1.4"/>
<rect x="243.9" y="559.9" width="7.8" height="7.8" fill="none" stroke="#151515" stroke-width="1.4"/>
<rect x="250.6" y="561.1" width="7.8" height="7.8" fill="none" stroke="#151515" stroke-width="1.4"/>
<rect x="258.9" y="563.1" width="7.8" height="7.8" fill="none" stroke="#151515" stroke-width="1.4"/>
<rect x="265.1" y="548.6" width="7.8" height="7.8" fill="none" stroke="#151515" stroke-width="1.4"/>
<rect x="271.6" y="549.9" width="7.8" height="7.8" fill="none" stroke="#151515" stroke-width="1.4"/>
<rect x="279.4" y="551.1" width="7.8" height="7.8" fill="none" stroke="#151515" stroke-width="1.4"/>
<rect x="286.4" y="546.1" width="7.8" height="7.8" fill="none" stroke="#151515" stroke-width="1.4"/>
<circle cx="65.8" cy="545.0" r="4.4" fill="none" stroke="#151515" stroke-width="1.4"/>
<circle cx="76.3" cy="583.8" r="4.4" fill="none" stroke="#151515" stroke-width="1.4"/>
<circle cx="78.8" cy="584.0" r="4.4" fill="none" stroke="#151515" stroke-width="1.4"/>
<circle cx="85.0" cy="584.5" r="4.4" fill="none" stroke="#151515" stroke-width="1.4"/>
<circle cx="91.3" cy="565.0" r="4.4" fill="none" stroke="#151515" stroke-width="1.4"/>
<circle cx="100.0" cy="561.3" r="4.4" fill="none" stroke="#151515" stroke-width="1.4"/>
<circle cx="109.5" cy="557.5" r="4.4" fill="none" stroke="#151515" stroke-width="1.4"/>
<circle cx="120.0" cy="555.0" r="4.4" fill="none" stroke="#151515" stroke-width="1.4"/>
<circle cx="126.3" cy="556.3" r="4.4" fill="none" stroke="#151515" stroke-width="1.4"/>
<circle cx="140.8" cy="558.0" r="4.4" fill="none" stroke="#151515" stroke-width="1.4"/>
<circle cx="144.5" cy="558.0" r="4.4" fill="none" stroke="#151515" stroke-width="1.4"/>
<circle cx="152.7" cy="562.6" r="4.4" fill="none" stroke="#151515" stroke-width="1.4"/>
<circle cx="161.8" cy="558.0" r="4.4" fill="none" stroke="#151515" stroke-width="1.4"/>
<circle cx="172.5" cy="555.5" r="4.4" fill="none" stroke="#151515" stroke-width="1.4"/>
<circle cx="187.8" cy="558.0" r="4.4" fill="none" stroke="#151515" stroke-width="1.4"/>
<circle cx="194.0" cy="556.8" r="4.4" fill="none" stroke="#151515" stroke-width="1.4"/>
<circle cx="202.0" cy="557.0" r="4.4" fill="none" stroke="#151515" stroke-width="1.4"/>
<circle cx="207.5" cy="559.5" r="4.4" fill="none" stroke="#151515" stroke-width="1.4"/>
<circle cx="214.5" cy="553.8" r="4.4" fill="none" stroke="#151515" stroke-width="1.4"/>
<circle cx="222.5" cy="558.8" r="4.4" fill="none" stroke="#151515" stroke-width="1.4"/>
<circle cx="228.3" cy="557.5" r="4.4" fill="none" stroke="#151515" stroke-width="1.4"/>
<circle cx="234.5" cy="558.8" r="4.4" fill="none" stroke="#151515" stroke-width="1.4"/>
<circle cx="242.5" cy="558.0" r="4.4" fill="none" stroke="#151515" stroke-width="1.4"/>
<circle cx="247.8" cy="560.0" r="4.4" fill="none" stroke="#151515" stroke-width="1.4"/>
<circle cx="254.5" cy="562.0" r="4.4" fill="none" stroke="#151515" stroke-width="1.4"/>
<circle cx="262.8" cy="562.0" r="4.4" fill="none" stroke="#151515" stroke-width="1.4"/>
<circle cx="269.0" cy="555.0" r="4.4" fill="none" stroke="#151515" stroke-width="1.4"/>
<circle cx="275.5" cy="557.5" r="4.4" fill="none" stroke="#151515" stroke-width="1.4"/>
<circle cx="283.3" cy="558.8" r="4.4" fill="none" stroke="#151515" stroke-width="1.4"/>
<circle cx="290.3" cy="552.5" r="4.4" fill="none" stroke="#151515" stroke-width="1.4"/>
<rect x="61.6" y="540.8" width="8.4" height="8.4" fill="#151515" stroke="#151515" stroke-width="1.0"/>
</svg></body></html>
